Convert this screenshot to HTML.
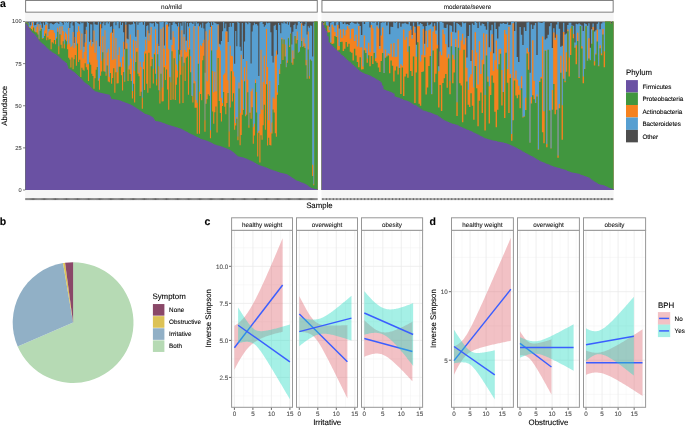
<!DOCTYPE html>
<html><head><meta charset="utf-8"><style>
html,body{margin:0;padding:0;background:#fff;}
body{width:685px;height:426px;overflow:hidden;}
svg{display:block;will-change:transform;}
text{font-family:"Liberation Sans", sans-serif;-webkit-font-smoothing:antialiased;text-rendering:geometricPrecision;stroke:currentColor;stroke-width:0.1px;}
.t{opacity:0.995;will-change:opacity;}
</style></head><body>
<svg width="685" height="426" viewBox="0 0 685 426">
<rect x="25.2" y="13" width="292.5" height="185" fill="#f6f6f6"/>
<rect x="25.65" y="0.4" width="291.6" height="11.75" fill="#fff" stroke="#6e6e6e" stroke-width="0.9"/>
<rect x="321.5" y="13" width="292.1" height="185" fill="#f6f6f6"/>
<rect x="321.95" y="0.4" width="291.2" height="11.75" fill="#fff" stroke="#6e6e6e" stroke-width="0.9"/>
<rect x="25.31" y="21.5" width="292.28" height="168.5" fill="#4d4d4d"/>
<path d="M25.31 190L25.31 22.14 26.41 22.14 26.41 22.58 27.51 22.58 27.51 23.46 28.61 23.46 28.61 22.07 29.71 22.07 29.71 25.33 30.8 25.33 30.8 22.2 31.9 22.2 31.9 21.94 33 21.94 33 21.86 34.1 21.86 34.1 25.34 35.2 25.34 35.2 24.88 36.3 24.88 36.3 22.59 37.4 22.59 37.4 21.89 38.5 21.89 38.5 24.16 39.59 24.16 39.59 21.53 40.69 21.53 40.69 23.43 41.79 23.43 41.79 27.86 42.89 27.86 42.89 22.4 43.99 22.4 43.99 24.66 45.09 24.66 45.09 22.02 46.19 22.02 46.19 21.84 47.29 21.84 47.29 22.71 48.38 22.71 48.38 28.9 49.48 28.9 49.48 23.38 50.58 23.38 50.58 22.97 51.68 22.97 51.68 24.06 52.78 24.06 52.78 24.4 53.88 24.4 53.88 23.83 54.98 23.83 54.98 23.03 56.08 23.03 56.08 22.61 57.18 22.61 57.18 22.74 58.27 22.74 58.27 24.04 59.37 24.04 59.37 21.53 60.47 21.53 60.47 21.94 61.57 21.94 61.57 23.02 62.67 23.02 62.67 24.87 63.77 24.87 63.77 21.71 64.87 21.71 64.87 22.6 65.97 22.6 65.97 21.75 67.06 21.75 67.06 22.66 68.16 22.66 68.16 21.79 69.26 21.79 69.26 28.08 70.36 28.08 70.36 23.17 71.46 23.17 71.46 21.54 72.56 21.54 72.56 25.43 73.66 25.43 73.66 42.96 74.76 42.96 74.76 22.06 75.85 22.06 75.85 21.59 76.95 21.59 76.95 22.77 78.05 22.77 78.05 23.41 79.15 23.41 79.15 24.18 80.25 24.18 80.25 22.06 81.35 22.06 81.35 23.27 82.45 23.27 82.45 22.49 83.55 22.49 83.55 46.74 84.64 46.74 84.64 33.91 85.74 33.91 85.74 26.64 86.84 26.64 86.84 21.9 87.94 21.9 87.94 22.96 89.04 22.96 89.04 41.86 90.14 41.86 90.14 24.23 91.24 24.23 91.24 24.58 92.34 24.58 92.34 41.95 93.44 41.95 93.44 21.89 94.53 21.89 94.53 24.25 95.63 24.25 95.63 24.66 96.73 24.66 96.73 24.63 97.83 24.63 97.83 22.11 98.93 22.11 98.93 46.32 100.03 46.32 100.03 22.25 101.13 22.25 101.13 28.32 102.23 28.32 102.23 23.41 103.32 23.41 103.32 21.95 104.42 21.95 104.42 25.13 105.52 25.13 105.52 22.61 106.62 22.61 106.62 21.54 107.72 21.54 107.72 23.39 108.82 23.39 108.82 21.94 109.92 21.94 109.92 26.79 111.02 26.79 111.02 26.3 112.11 26.3 112.11 32.81 113.21 32.81 113.21 22.48 114.31 22.48 114.31 21.81 115.41 21.81 115.41 25.14 116.51 25.14 116.51 21.61 117.61 21.61 117.61 21.61 118.71 21.61 118.71 28.29 119.81 28.29 119.81 21.76 120.91 21.76 120.91 24.88 122 24.88 122 22.78 123.1 22.78 123.1 32.27 124.2 32.27 124.2 49.23 125.3 49.23 125.3 21.9 126.4 21.9 126.4 38.38 127.5 38.38 127.5 39.23 128.6 39.23 128.6 24.35 129.7 24.35 129.7 24.66 130.79 24.66 130.79 24.59 131.89 24.59 131.89 24.13 132.99 24.13 132.99 21.66 134.09 21.66 134.09 23.57 135.19 23.57 135.19 36.83 136.29 36.83 136.29 21.84 137.39 21.84 137.39 24.63 138.49 24.63 138.49 22.4 139.58 22.4 139.58 22.6 140.68 22.6 140.68 22 141.78 22 141.78 22.17 142.88 22.17 142.88 24.73 143.98 24.73 143.98 21.63 145.08 21.63 145.08 36.8 146.18 36.8 146.18 26.02 147.28 26.02 147.28 25.24 148.38 25.24 148.38 33.28 149.47 33.28 149.47 22.67 150.57 22.67 150.57 23.34 151.67 23.34 151.67 23.52 152.77 23.52 152.77 22.96 153.87 22.96 153.87 26.39 154.97 26.39 154.97 22.1 156.07 22.1 156.07 23.35 157.17 23.35 157.17 23.77 158.26 23.77 158.26 45.89 159.36 45.89 159.36 21.92 160.46 21.92 160.46 22.18 161.56 22.18 161.56 21.82 162.66 21.82 162.66 21.84 163.76 21.84 163.76 45.51 164.86 45.51 164.86 22.3 165.96 22.3 165.96 21.81 167.05 21.81 167.05 22.6 168.15 22.6 168.15 26.38 169.25 26.38 169.25 22.92 170.35 22.92 170.35 39.76 171.45 39.76 171.45 25.06 172.55 25.06 172.55 22.61 173.65 22.61 173.65 22.08 174.75 22.08 174.75 23.4 175.85 23.4 175.85 24.3 176.94 24.3 176.94 26.31 178.04 26.31 178.04 22.85 179.14 22.85 179.14 54.53 180.24 54.53 180.24 23.2 181.34 23.2 181.34 25.67 182.44 25.67 182.44 22.21 183.54 22.21 183.54 34.29 184.64 34.29 184.64 21.54 185.73 21.54 185.73 40.84 186.83 40.84 186.83 22.95 187.93 22.95 187.93 26.59 189.03 26.59 189.03 23.05 190.13 23.05 190.13 22.62 191.23 22.62 191.23 22.77 192.33 22.77 192.33 24.03 193.43 24.03 193.43 22.14 194.52 22.14 194.52 26.09 195.62 26.09 195.62 21.57 196.72 21.57 196.72 23.5 197.82 23.5 197.82 23.23 198.92 23.23 198.92 26.32 200.02 26.32 200.02 24.43 201.12 24.43 201.12 27.73 202.22 27.73 202.22 22.82 203.32 22.82 203.32 28.57 204.41 28.57 204.41 72.72 205.51 72.72 205.51 23.63 206.61 23.63 206.61 23.02 207.71 23.02 207.71 21.65 208.81 21.65 208.81 23.12 209.91 23.12 209.91 26.91 211.01 26.91 211.01 22.22 212.11 22.22 212.11 25.11 213.2 25.11 213.2 22.06 214.3 22.06 214.3 22.76 215.4 22.76 215.4 23.31 216.5 23.31 216.5 24.22 217.6 24.22 217.6 24 218.7 24 218.7 43.83 219.8 43.83 219.8 44.45 220.9 44.45 220.9 40.89 221.99 40.89 221.99 31.33 223.09 31.33 223.09 21.94 224.19 21.94 224.19 28.25 225.29 28.25 225.29 23.39 226.39 23.39 226.39 31.28 227.49 31.28 227.49 42.09 228.59 42.09 228.59 27.03 229.69 27.03 229.69 22.93 230.79 22.93 230.79 26.86 231.88 26.86 231.88 22.9 232.98 22.9 232.98 23.12 234.08 23.12 234.08 63.71 235.18 63.71 235.18 30.88 236.28 30.88 236.28 46.21 237.38 46.21 237.38 21.96 238.48 21.96 238.48 22.9 239.58 22.9 239.58 46.78 240.67 46.78 240.67 50.7 241.77 50.7 241.77 23.04 242.87 23.04 242.87 58.99 243.97 58.99 243.97 41.45 245.07 41.45 245.07 22.6 246.17 22.6 246.17 22.65 247.27 22.65 247.27 24.34 248.37 24.34 248.37 22.35 249.46 22.35 249.46 22.97 250.56 22.97 250.56 63.53 251.66 63.53 251.66 31.55 252.76 31.55 252.76 25.21 253.86 25.21 253.86 22.7 254.96 22.7 254.96 24.18 256.06 24.18 256.06 24.12 257.16 24.12 257.16 25.55 258.26 25.55 258.26 76.11 259.35 76.11 259.35 22.6 260.45 22.6 260.45 21.67 261.55 21.67 261.55 21.89 262.65 21.89 262.65 23.99 263.75 23.99 263.75 26.69 264.85 26.69 264.85 25.23 265.95 25.23 265.95 22.55 267.05 22.55 267.05 23.24 268.14 23.24 268.14 22.87 269.24 22.87 269.24 22.69 270.34 22.69 270.34 32.24 271.44 32.24 271.44 55.65 272.54 55.65 272.54 62.54 273.64 62.54 273.64 25.71 274.74 25.71 274.74 24.79 275.84 24.79 275.84 30.06 276.93 30.06 276.93 54.43 278.03 54.43 278.03 22.93 279.13 22.93 279.13 25.01 280.23 25.01 280.23 33.23 281.33 33.23 281.33 22.63 282.43 22.63 282.43 23.4 283.53 23.4 283.53 21.6 284.63 21.6 284.63 23.32 285.72 23.32 285.72 23.85 286.82 23.85 286.82 21.85 287.92 21.85 287.92 24.86 289.02 24.86 289.02 22.22 290.12 22.22 290.12 27.3 291.22 27.3 291.22 44.61 292.32 44.61 292.32 31.86 293.42 31.86 293.42 25.12 294.52 25.12 294.52 23.53 295.61 23.53 295.61 28.89 296.71 28.89 296.71 25.37 297.81 25.37 297.81 21.59 298.91 21.59 298.91 21.61 300.01 21.61 300.01 22.91 301.11 22.91 301.11 22.14 302.21 22.14 302.21 25.19 303.31 25.19 303.31 26.1 304.4 26.1 304.4 24.29 305.5 24.29 305.5 21.92 306.6 21.92 306.6 34.5 307.7 34.5 307.7 26.15 308.8 26.15 308.8 27.76 309.9 27.76 309.9 25.44 311 25.44 311 25.72 312.1 25.72 312.1 56.5 313.19 56.5 313.19 22.5 314.29 22.5 314.29 21.5 315.39 21.5 315.39 21.5 316.49 21.5 316.49 21.5 317.59 21.5 317.59 190Z" fill="#579fd1"/>
<path d="M25.31 190L25.31 22.59 26.41 22.59 26.41 22.58 27.51 22.58 27.51 23.46 28.61 23.46 28.61 27.03 29.71 27.03 29.71 28.12 30.8 28.12 30.8 26.01 31.9 26.01 31.9 22.2 33 22.2 33 26.56 34.1 26.56 34.1 28.21 35.2 28.21 35.2 31.68 36.3 31.68 36.3 26.65 37.4 26.65 37.4 23.91 38.5 23.91 38.5 38.49 39.59 38.49 39.59 24.96 40.69 24.96 40.69 28.28 41.79 28.28 41.79 37.94 42.89 37.94 42.89 38.17 43.99 38.17 43.99 30.47 45.09 30.47 45.09 25.57 46.19 25.57 46.19 24.55 47.29 24.55 47.29 36.1 48.38 36.1 48.38 31.49 49.48 31.49 49.48 30.01 50.58 30.01 50.58 29.67 51.68 29.67 51.68 29.91 52.78 29.91 52.78 30.35 53.88 30.35 53.88 32.65 54.98 32.65 54.98 40.22 56.08 40.22 56.08 37 57.18 37 57.18 27.79 58.27 27.79 58.27 46.37 59.37 46.37 59.37 26.44 60.47 26.44 60.47 34.93 61.57 34.93 61.57 26.26 62.67 26.26 62.67 30.94 63.77 30.94 63.77 43.98 64.87 43.98 64.87 32.2 65.97 32.2 65.97 33.96 67.06 33.96 67.06 44.4 68.16 44.4 68.16 28.02 69.26 28.02 69.26 43.7 70.36 43.7 70.36 47.12 71.46 47.12 71.46 45.83 72.56 45.83 72.56 32.04 73.66 32.04 73.66 48.01 74.76 48.01 74.76 36.92 75.85 36.92 75.85 45.51 76.95 45.51 76.95 31.95 78.05 31.95 78.05 26.22 79.15 26.22 79.15 31.14 80.25 31.14 80.25 49.64 81.35 49.64 81.35 33.43 82.45 33.43 82.45 58.43 83.55 58.43 83.55 52.01 84.64 52.01 84.64 42.44 85.74 42.44 85.74 30.27 86.84 30.27 86.84 64.32 87.94 64.32 87.94 64.01 89.04 64.01 89.04 44.57 90.14 44.57 90.14 39.75 91.24 39.75 91.24 46.24 92.34 46.24 92.34 43.79 93.44 43.79 93.44 30.47 94.53 30.47 94.53 52.74 95.63 52.74 95.63 40.67 96.73 40.67 96.73 59.76 97.83 59.76 97.83 80.44 98.93 80.44 98.93 78.22 100.03 78.22 100.03 24.33 101.13 24.33 101.13 60.82 102.23 60.82 102.23 36.2 103.32 36.2 103.32 58.48 104.42 58.48 104.42 30.13 105.52 30.13 105.52 73.86 106.62 73.86 106.62 52.41 107.72 52.41 107.72 48.74 108.82 48.74 108.82 76.78 109.92 76.78 109.92 33.26 111.02 33.26 111.02 32.37 112.11 32.37 112.11 59.88 113.21 59.88 113.21 29.02 114.31 29.02 114.31 59.1 115.41 59.1 115.41 37.96 116.51 37.96 116.51 72.25 117.61 72.25 117.61 54.92 118.71 54.92 118.71 47.17 119.81 47.17 119.81 62.13 120.91 62.13 120.91 66.96 122 66.96 122 56.74 123.1 56.74 123.1 41.87 124.2 41.87 124.2 80.59 125.3 80.59 125.3 24.66 126.4 24.66 126.4 43.18 127.5 43.18 127.5 69.57 128.6 69.57 128.6 65.57 129.7 65.57 129.7 34.55 130.79 34.55 130.79 58.7 131.89 58.7 131.89 91.1 132.99 91.1 132.99 39.85 134.09 39.85 134.09 70.84 135.19 70.84 135.19 41.02 136.29 41.02 136.29 47.92 137.39 47.92 137.39 30.01 138.49 30.01 138.49 72.71 139.58 72.71 139.58 61.67 140.68 61.67 140.68 67 141.78 67 141.78 97.84 142.88 97.84 142.88 61.67 143.98 61.67 143.98 51.38 145.08 51.38 145.08 39.43 146.18 39.43 146.18 50.4 147.28 50.4 147.28 30.53 148.38 30.53 148.38 40.71 149.47 40.71 149.47 35.03 150.57 35.03 150.57 27.06 151.67 27.06 151.67 57.13 152.77 57.13 152.77 68.76 153.87 68.76 153.87 52.71 154.97 52.71 154.97 29.17 156.07 29.17 156.07 79.36 157.17 79.36 157.17 43.76 158.26 43.76 158.26 66.13 159.36 66.13 159.36 91.33 160.46 91.33 160.46 28.96 161.56 28.96 161.56 87.56 162.66 87.56 162.66 27.35 163.76 27.35 163.76 48.72 164.86 48.72 164.86 65.62 165.96 65.62 165.96 24.81 167.05 24.81 167.05 24.53 168.15 24.53 168.15 49.13 169.25 49.13 169.25 76.54 170.35 76.54 170.35 82.26 171.45 82.26 171.45 45.02 172.55 45.02 172.55 31.28 173.65 31.28 173.65 37.32 174.75 37.32 174.75 49.78 175.85 49.78 175.85 64.62 176.94 64.62 176.94 70.54 178.04 70.54 178.04 26.86 179.14 26.86 179.14 60.8 180.24 60.8 180.24 49.89 181.34 49.89 181.34 30.22 182.44 30.22 182.44 66.17 183.54 66.17 183.54 36.87 184.64 36.87 184.64 49.95 185.73 49.95 185.73 51.91 186.83 51.91 186.83 40.2 187.93 40.2 187.93 47.57 189.03 47.57 189.03 28.23 190.13 28.23 190.13 56.35 191.23 56.35 191.23 95.48 192.33 95.48 192.33 96.46 193.43 96.46 193.43 26.16 194.52 26.16 194.52 81.15 195.62 81.15 195.62 99.9 196.72 99.9 196.72 102.7 197.82 102.7 197.82 26.17 198.92 26.17 198.92 91.66 200.02 91.66 200.02 45.27 201.12 45.27 201.12 46.27 202.22 46.27 202.22 43.11 203.32 43.11 203.32 39.68 204.41 39.68 204.41 120.32 205.51 120.32 205.51 31.24 206.61 31.24 206.61 81.3 207.71 81.3 207.71 40.37 208.81 40.37 208.81 29.79 209.91 29.79 209.91 130.18 211.01 130.18 211.01 26.1 212.11 26.1 212.11 70.96 213.2 70.96 213.2 92.29 214.3 92.29 214.3 71.79 215.4 71.79 215.4 91.13 216.5 91.13 216.5 49.65 217.6 49.65 217.6 25.3 218.7 25.3 218.7 46.72 219.8 46.72 219.8 50.43 220.9 50.43 220.9 97.98 221.99 97.98 221.99 103.03 223.09 103.03 223.09 74.8 224.19 74.8 224.19 73.27 225.29 73.27 225.29 31.54 226.39 31.54 226.39 31.58 227.49 31.58 227.49 80.24 228.59 80.24 228.59 131.55 229.69 131.55 229.69 45.75 230.79 45.75 230.79 55.86 231.88 55.86 231.88 56.14 232.98 56.14 232.98 71.47 234.08 71.47 234.08 76.5 235.18 76.5 235.18 122.96 236.28 122.96 236.28 117 237.38 117 237.38 136.58 238.48 136.58 238.48 82.41 239.58 82.41 239.58 113.04 240.67 113.04 240.67 54.8 241.77 54.8 241.77 79.72 242.87 79.72 242.87 109.43 243.97 109.43 243.97 67.36 245.07 67.36 245.07 114.56 246.17 114.56 246.17 60.89 247.27 60.89 247.27 79.64 248.37 79.64 248.37 125.21 249.46 125.21 249.46 112.39 250.56 112.39 250.56 91.3 251.66 91.3 251.66 88.68 252.76 88.68 252.76 127 253.86 127 253.86 123.86 254.96 123.86 254.96 79.59 256.06 79.59 256.06 91.93 257.16 91.93 257.16 133.04 258.26 133.04 258.26 131.02 259.35 131.02 259.35 114.06 260.45 114.06 260.45 49.74 261.55 49.74 261.55 109.69 262.65 109.69 262.65 82.06 263.75 82.06 263.75 55.72 264.85 55.72 264.85 84.25 265.95 84.25 265.95 29.07 267.05 29.07 267.05 66.95 268.14 66.95 268.14 120.25 269.24 120.25 269.24 81 270.34 81 270.34 132.56 271.44 132.56 271.44 122.49 272.54 122.49 272.54 97.31 273.64 97.31 273.64 98.65 274.74 98.65 274.74 55.96 275.84 55.96 275.84 50.48 276.93 50.48 276.93 92.38 278.03 92.38 278.03 85.02 279.13 85.02 279.13 69.54 280.23 69.54 280.23 64.01 281.33 64.01 281.33 37.68 282.43 37.68 282.43 43.97 283.53 43.97 283.53 39.45 284.63 39.45 284.63 44.61 285.72 44.61 285.72 67.25 286.82 67.25 286.82 60.62 287.92 60.62 287.92 37.87 289.02 37.87 289.02 45.54 290.12 45.54 290.12 33.53 291.22 33.53 291.22 62.44 292.32 62.44 292.32 50.62 293.42 50.62 293.42 58.24 294.52 58.24 294.52 36.06 295.61 36.06 295.61 38.75 296.71 38.75 296.71 31.41 297.81 31.41 297.81 52.75 298.91 52.75 298.91 51.82 300.01 51.82 300.01 46.56 301.11 46.56 301.11 23.26 302.21 23.26 302.21 46.93 303.31 46.93 303.31 37.72 304.4 37.72 304.4 43.47 305.5 43.47 305.5 59.92 306.6 59.92 306.6 78.64 307.7 78.64 307.7 31.59 308.8 31.59 308.8 76.09 309.9 76.09 309.9 59.41 311 59.41 311 60.86 312.1 60.86 312.1 164.8 313.19 164.8 313.19 184.3 314.29 184.3 314.29 21.5 315.39 21.5 315.39 21.5 316.49 21.5 316.49 21.5 317.59 21.5 317.59 190Z" fill="#f5821f"/>
<path d="M25.31 190L25.31 22.59 26.41 22.59 26.41 22.58 27.51 22.58 27.51 23.46 28.61 23.46 28.61 27.61 29.71 27.61 29.71 28.12 30.8 28.12 30.8 28.9 31.9 28.9 31.9 30.48 33 30.48 33 27.58 34.1 27.58 34.1 31.61 35.2 31.61 35.2 32.25 36.3 32.25 36.3 32.47 37.4 32.47 37.4 34.52 38.5 34.52 38.5 39.16 39.59 39.16 39.59 30.76 40.69 30.76 40.69 29.04 41.79 29.04 41.79 38.72 42.89 38.72 42.89 38.21 43.99 38.21 43.99 36.07 45.09 36.07 45.09 33.55 46.19 33.55 46.19 40.28 47.29 40.28 47.29 37.43 48.38 37.43 48.38 39.86 49.48 39.86 49.48 39.04 50.58 39.04 50.58 49.21 51.68 49.21 51.68 42.37 52.78 42.37 52.78 43.44 53.88 43.44 53.88 40.02 54.98 40.02 54.98 44.37 56.08 44.37 56.08 38.47 57.18 38.47 57.18 31.76 58.27 31.76 58.27 54.17 59.37 54.17 59.37 34.26 60.47 34.26 60.47 44.67 61.57 44.67 61.57 48.22 62.67 48.22 62.67 41.17 63.77 41.17 63.77 48.53 64.87 48.53 64.87 39.7 65.97 39.7 65.97 41.22 67.06 41.22 67.06 49.3 68.16 49.3 68.16 57.87 69.26 57.87 69.26 59.47 70.36 59.47 70.36 67.38 71.46 67.38 71.46 57.47 72.56 57.47 72.56 69.35 73.66 69.35 73.66 59.26 74.76 59.26 74.76 55.07 75.85 55.07 75.85 65.75 76.95 65.75 76.95 43.59 78.05 43.59 78.05 61.91 79.15 61.91 79.15 59.8 80.25 59.8 80.25 77.08 81.35 77.08 81.35 67.79 82.45 67.79 82.45 69.73 83.55 69.73 83.55 70.68 84.64 70.68 84.64 63.15 85.74 63.15 85.74 67.37 86.84 67.37 86.84 69.77 87.94 69.77 87.94 81.11 89.04 81.11 89.04 62.43 90.14 62.43 90.14 64.79 91.24 64.79 91.24 73.82 92.34 73.82 92.34 75.99 93.44 75.99 93.44 88.81 94.53 88.81 94.53 78.34 95.63 78.34 95.63 69.68 96.73 69.68 96.73 67.12 97.83 67.12 97.83 80.72 98.93 80.72 98.93 89.83 100.03 89.83 100.03 75.71 101.13 75.71 101.13 71.43 102.23 71.43 102.23 52.17 103.32 52.17 103.32 71.2 104.42 71.2 104.42 71.77 105.52 71.77 105.52 75.73 106.62 75.73 106.62 65.58 107.72 65.58 107.72 81.43 108.82 81.43 108.82 82.37 109.92 82.37 109.92 73.03 111.02 73.03 111.02 83.75 112.11 83.75 112.11 77.98 113.21 77.98 113.21 68.27 114.31 68.27 114.31 92.74 115.41 92.74 115.41 72.33 116.51 72.33 116.51 83.47 117.61 83.47 117.61 83.21 118.71 83.21 118.71 66.74 119.81 66.74 119.81 66.8 120.91 66.8 120.91 75.3 122 75.3 122 90.56 123.1 90.56 123.1 71.98 124.2 71.98 124.2 81.69 125.3 81.69 125.3 48.65 126.4 48.65 126.4 48.79 127.5 48.79 127.5 80.89 128.6 80.89 128.6 69.54 129.7 69.54 129.7 73.91 130.79 73.91 130.79 81.09 131.89 81.09 131.89 98.59 132.99 98.59 132.99 83.76 134.09 83.76 134.09 102.5 135.19 102.5 135.19 62.01 136.29 62.01 136.29 51.8 137.39 51.8 137.39 73.81 138.49 73.81 138.49 76.15 139.58 76.15 139.58 96.05 140.68 96.05 140.68 91.78 141.78 91.78 141.78 108.84 142.88 108.84 142.88 69.27 143.98 69.27 143.98 89.93 145.08 89.93 145.08 53.44 146.18 53.44 146.18 83.7 147.28 83.7 147.28 92.68 148.38 92.68 148.38 52.79 149.47 52.79 149.47 88.21 150.57 88.21 150.57 66.13 151.67 66.13 151.67 59.04 152.77 59.04 152.77 83.46 153.87 83.46 153.87 54.33 154.97 54.33 154.97 73.79 156.07 73.79 156.07 85.55 157.17 85.55 157.17 54.37 158.26 54.37 158.26 90.33 159.36 90.33 159.36 103.51 160.46 103.51 160.46 73.72 161.56 73.72 161.56 101.41 162.66 101.41 162.66 101.34 163.76 101.34 163.76 67.21 164.86 67.21 164.86 80.09 165.96 80.09 165.96 69.55 167.05 69.55 167.05 89.53 168.15 89.53 168.15 109.83 169.25 109.83 169.25 77.2 170.35 77.2 170.35 99.94 171.45 99.94 171.45 51.35 172.55 51.35 172.55 99.47 173.65 99.47 173.65 58.15 174.75 58.15 174.75 99.94 175.85 99.94 175.85 84.63 176.94 84.63 176.94 77.5 178.04 77.5 178.04 49.67 179.14 49.67 179.14 103.39 180.24 103.39 180.24 74.66 181.34 74.66 181.34 56.67 182.44 56.67 182.44 102.94 183.54 102.94 183.54 62.76 184.64 62.76 184.64 80.98 185.73 80.98 185.73 57.67 186.83 57.67 186.83 56.39 187.93 56.39 187.93 94.7 189.03 94.7 189.03 49.61 190.13 49.61 190.13 72.27 191.23 72.27 191.23 96.02 192.33 96.02 192.33 102.45 193.43 102.45 193.43 83.33 194.52 83.33 194.52 107.63 195.62 107.63 195.62 107.63 196.72 107.63 196.72 133.71 197.82 133.71 197.82 63.77 198.92 63.77 198.92 133.77 200.02 133.77 200.02 94.08 201.12 94.08 201.12 100.22 202.22 100.22 202.22 60.19 203.32 60.19 203.32 55.86 204.41 55.86 204.41 131.69 205.51 131.69 205.51 103.86 206.61 103.86 206.61 99.18 207.71 99.18 207.71 94.33 208.81 94.33 208.81 95.71 209.91 95.71 209.91 138.29 211.01 138.29 211.01 50.56 212.11 50.56 212.11 111.57 213.2 111.57 213.2 123.72 214.3 123.72 214.3 112.35 215.4 112.35 215.4 106.52 216.5 106.52 216.5 132.53 217.6 132.53 217.6 57.98 218.7 57.98 218.7 100.91 219.8 100.91 219.8 112.93 220.9 112.93 220.9 121.58 221.99 121.58 221.99 106.05 223.09 106.05 223.09 92.06 224.19 92.06 224.19 106.82 225.29 106.82 225.29 114.15 226.39 114.15 226.39 102.99 227.49 102.99 227.49 92.98 228.59 92.98 228.59 146.69 229.69 146.69 229.69 107.52 230.79 107.52 230.79 71.32 231.88 71.32 231.88 101.42 232.98 101.42 232.98 93.31 234.08 93.31 234.08 129.84 235.18 129.84 235.18 125.59 236.28 125.59 236.28 118.74 237.38 118.74 237.38 140.33 238.48 140.33 238.48 88.62 239.58 88.62 239.58 145.13 240.67 145.13 240.67 135.1 241.77 135.1 241.77 114.78 242.87 114.78 242.87 110.06 243.97 110.06 243.97 81.13 245.07 81.13 245.07 116.13 246.17 116.13 246.17 114.86 247.27 114.86 247.27 92.22 248.37 92.22 248.37 127.67 249.46 127.67 249.46 112.66 250.56 112.66 250.56 118.82 251.66 118.82 251.66 107.29 252.76 107.29 252.76 143.68 253.86 143.68 253.86 135.47 254.96 135.47 254.96 83.02 256.06 83.02 256.06 112.52 257.16 112.52 257.16 156.47 258.26 156.47 258.26 132.82 259.35 132.82 259.35 162.56 260.45 162.56 260.45 135.28 261.55 135.28 261.55 139.75 262.65 139.75 262.65 125.24 263.75 125.24 263.75 104.71 264.85 104.71 264.85 129.64 265.95 129.64 265.95 84.3 267.05 84.3 267.05 145.47 268.14 145.47 268.14 137.63 269.24 137.63 269.24 144.94 270.34 144.94 270.34 145.38 271.44 145.38 271.44 133.41 272.54 133.41 272.54 109.49 273.64 109.49 273.64 112.54 274.74 112.54 274.74 133.29 275.84 133.29 275.84 136.67 276.93 136.67 276.93 94.7 278.03 94.7 278.03 85.09 279.13 85.09 279.13 73.92 280.23 73.92 280.23 64.06 281.33 64.06 281.33 39.13 282.43 39.13 282.43 59.95 283.53 59.95 283.53 39.48 284.63 39.48 284.63 56.48 285.72 56.48 285.72 67.26 286.82 67.26 286.82 62.77 287.92 62.77 287.92 38.2 289.02 38.2 289.02 47.05 290.12 47.05 290.12 33.65 291.22 33.65 291.22 62.63 292.32 62.63 292.32 64.69 293.42 64.69 293.42 58.82 294.52 58.82 294.52 36.06 295.61 36.06 295.61 43.57 296.71 43.57 296.71 39.98 297.81 39.98 297.81 52.75 298.91 52.75 298.91 51.84 300.01 51.84 300.01 47.21 301.11 47.21 301.11 40.91 302.21 40.91 302.21 46.93 303.31 46.93 303.31 46.34 304.4 46.34 304.4 47.89 305.5 47.89 305.5 65.19 306.6 65.19 306.6 78.82 307.7 78.82 307.7 49.62 308.8 49.62 308.8 78.67 309.9 78.67 309.9 59.44 311 59.44 311 60.86 312.1 60.86 312.1 175.9 313.19 175.9 313.19 185.3 314.29 185.3 314.29 21.5 315.39 21.5 315.39 21.5 316.49 21.5 316.49 21.5 317.59 21.5 317.59 190Z" fill="#41963f"/>
<path d="M25.31 190L25.31 23.2 26.41 23.2 26.41 24.13 27.51 24.13 27.51 25.95 28.61 25.95 28.61 28.06 29.71 28.06 29.71 29.82 30.8 29.82 30.8 31.26 31.9 31.26 31.9 32.42 33 32.42 33 33.2 34.1 33.2 34.1 34.13 35.2 34.13 35.2 35.56 36.3 35.56 36.3 37.01 37.4 37.01 37.4 38.57 38.5 38.57 38.5 40.14 39.59 40.14 39.59 41.62 40.69 41.62 40.69 42.5 41.79 42.5 41.79 43.38 42.89 43.38 42.89 44.27 43.99 44.27 43.99 45.24 45.09 45.24 45.09 46.34 46.19 46.34 46.19 47.44 47.29 47.44 47.29 48.54 48.38 48.54 48.38 49.49 49.48 49.49 49.48 50.38 50.58 50.38 50.58 51.26 51.68 51.26 51.68 52.14 52.78 52.14 52.78 52.8 53.88 52.8 53.88 53.45 54.98 53.45 54.98 54.09 56.08 54.09 56.08 54.78 57.18 54.78 57.18 55.67 58.27 55.67 58.27 56.55 59.37 56.55 59.37 57.43 60.47 57.43 60.47 58.49 61.57 58.49 61.57 59.69 62.67 59.69 62.67 60.53 63.77 60.53 63.77 61.36 64.87 61.36 64.87 62.2 65.97 62.2 65.97 63.03 67.06 63.03 67.06 65.4 68.16 65.4 68.16 68.43 69.26 68.43 69.26 69.12 70.36 69.12 70.36 69.81 71.46 69.81 71.46 70.51 72.56 70.51 72.56 71.31 73.66 71.31 73.66 72.12 74.76 72.12 74.76 72.98 75.85 72.98 75.85 73.99 76.95 73.99 76.95 75 78.05 75 78.05 76.01 79.15 76.01 79.15 77.02 80.25 77.02 80.25 78.15 81.35 78.15 81.35 79.31 82.45 79.31 82.45 80.48 83.55 80.48 83.55 81.64 84.64 81.64 84.64 82.74 85.74 82.74 85.74 83.51 86.84 83.51 86.84 84.27 87.94 84.27 87.94 85.04 89.04 85.04 89.04 85.81 90.14 85.81 90.14 86.9 91.24 86.9 91.24 88.19 92.34 88.19 92.34 89.47 93.44 89.47 93.44 90.34 94.53 90.34 94.53 91.13 95.63 91.13 95.63 91.48 96.73 91.48 96.73 91.83 97.83 91.83 97.83 92.18 98.93 92.18 98.93 92.53 100.03 92.53 100.03 92.82 101.13 92.82 101.13 93.04 102.23 93.04 102.23 93.26 103.32 93.26 103.32 93.47 104.42 93.47 104.42 93.69 105.52 93.69 105.52 93.94 106.62 93.94 106.62 94.18 107.72 94.18 107.72 94.42 108.82 94.42 108.82 94.66 109.92 94.66 109.92 96.62 111.02 96.62 111.02 98.8 112.11 98.8 112.11 98.99 113.21 98.99 113.21 99.18 114.31 99.18 114.31 99.38 115.41 99.38 115.41 99.59 116.51 99.59 116.51 99.81 117.61 99.81 117.61 100.03 118.71 100.03 118.71 100.25 119.81 100.25 119.81 100.54 120.91 100.54 120.91 100.98 122 100.98 122 101.42 123.1 101.42 123.1 101.86 124.2 101.86 124.2 102.3 125.3 102.3 125.3 102.71 126.4 102.71 126.4 103.1 127.5 103.1 127.5 103.5 128.6 103.5 128.6 103.89 129.7 103.89 129.7 104.34 130.79 104.34 130.79 104.95 131.89 104.95 131.89 105.57 132.99 105.57 132.99 106.18 134.09 106.18 134.09 106.8 135.19 106.8 135.19 107.52 136.29 107.52 136.29 108.29 137.39 108.29 137.39 109.06 138.49 109.06 138.49 109.82 139.58 109.82 139.58 110.59 140.68 110.59 140.68 111.29 141.78 111.29 141.78 111.99 142.88 111.99 142.88 112.7 143.98 112.7 143.98 113.4 145.08 113.4 145.08 113.91 146.18 113.91 146.18 114.29 147.28 114.29 147.28 114.66 148.38 114.66 148.38 115.03 149.47 115.03 149.47 115.42 150.57 115.42 150.57 116.14 151.67 116.14 151.67 116.86 152.77 116.86 152.77 117.7 153.87 117.7 153.87 119.53 154.97 119.53 154.97 121.03 156.07 121.03 156.07 121.19 157.17 121.19 157.17 121.35 158.26 121.35 158.26 121.5 159.36 121.5 159.36 121.66 160.46 121.66 160.46 122.02 161.56 122.02 161.56 122.45 162.66 122.45 162.66 122.89 163.76 122.89 163.76 123.32 164.86 123.32 164.86 123.75 165.96 123.75 165.96 124.19 167.05 124.19 167.05 124.59 168.15 124.59 168.15 124.92 169.25 124.92 169.25 125.25 170.35 125.25 170.35 125.58 171.45 125.58 171.45 125.91 172.55 125.91 172.55 126.24 173.65 126.24 173.65 126.57 174.75 126.57 174.75 126.9 175.85 126.9 175.85 127.23 176.94 127.23 176.94 127.56 178.04 127.56 178.04 127.89 179.14 127.89 179.14 128.22 180.24 128.22 180.24 128.55 181.34 128.55 181.34 129.03 182.44 129.03 182.44 129.65 183.54 129.65 183.54 130.26 184.64 130.26 184.64 130.88 185.73 130.88 185.73 131.5 186.83 131.5 186.83 132.09 187.93 132.09 187.93 132.63 189.03 132.63 189.03 133.17 190.13 133.17 190.13 133.71 191.23 133.71 191.23 134.26 192.33 134.26 192.33 134.8 193.43 134.8 193.43 135.34 194.52 135.34 194.52 135.89 195.62 135.89 195.62 136.44 196.72 136.44 196.72 136.99 197.82 136.99 197.82 137.54 198.92 137.54 198.92 138.08 200.02 138.08 200.02 138.63 201.12 138.63 201.12 139.08 202.22 139.08 202.22 139.42 203.32 139.42 203.32 139.76 204.41 139.76 204.41 140.1 205.51 140.1 205.51 140.44 206.61 140.44 206.61 140.78 207.71 140.78 207.71 141.13 208.81 141.13 208.81 141.68 209.91 141.68 209.91 142.23 211.01 142.23 211.01 142.78 212.11 142.78 212.11 143.33 213.2 143.33 213.2 143.88 214.3 143.88 214.3 144.43 215.4 144.43 215.4 144.82 216.5 144.82 216.5 145.15 217.6 145.15 217.6 145.47 218.7 145.47 218.7 145.8 219.8 145.8 219.8 146.12 220.9 146.12 220.9 146.45 221.99 146.45 221.99 146.8 223.09 146.8 223.09 147.24 224.19 147.24 224.19 147.68 225.29 147.68 225.29 148.12 226.39 148.12 226.39 148.56 227.49 148.56 227.49 149 228.59 149 228.59 149.43 229.69 149.43 229.69 150.12 230.79 150.12 230.79 150.86 231.88 150.86 231.88 151.59 232.98 151.59 232.98 152.33 234.08 152.33 234.08 153.28 235.18 153.28 235.18 154.23 236.28 154.23 236.28 155.18 237.38 155.18 237.38 156.14 238.48 156.14 238.48 156.46 239.58 156.46 239.58 156.75 240.67 156.75 240.67 157.03 241.77 157.03 241.77 157.31 242.87 157.31 242.87 157.59 243.97 157.59 243.97 157.88 245.07 157.88 245.07 158.27 246.17 158.27 246.17 158.75 247.27 158.75 247.27 159.23 248.37 159.23 248.37 159.71 249.46 159.71 249.46 160.19 250.56 160.19 250.56 160.67 251.66 160.67 251.66 161.16 252.76 161.16 252.76 161.79 253.86 161.79 253.86 162.42 254.96 162.42 254.96 163.05 256.06 163.05 256.06 163.68 257.16 163.68 257.16 164.3 258.26 164.3 258.26 164.93 259.35 164.93 259.35 165.37 260.45 165.37 260.45 165.74 261.55 165.74 261.55 166.11 262.65 166.11 262.65 166.49 263.75 166.49 263.75 166.86 264.85 166.86 264.85 167.23 265.95 167.23 265.95 167.62 267.05 167.62 267.05 168.06 268.14 168.06 268.14 168.5 269.24 168.5 269.24 168.94 270.34 168.94 270.34 169.38 271.44 169.38 271.44 169.82 272.54 169.82 272.54 170.26 273.64 170.26 273.64 170.62 274.74 170.62 274.74 170.98 275.84 170.98 275.84 171.33 276.93 171.33 276.93 171.69 278.03 171.69 278.03 172.04 279.13 172.04 279.13 172.4 280.23 172.4 280.23 172.72 281.33 172.72 281.33 172.99 282.43 172.99 282.43 173.27 283.53 173.27 283.53 173.54 284.63 173.54 284.63 173.82 285.72 173.82 285.72 174.09 286.82 174.09 286.82 174.62 287.92 174.62 287.92 175.16 289.02 175.16 289.02 175.69 290.12 175.69 290.12 176.38 291.22 176.38 291.22 177.18 292.32 177.18 292.32 177.98 293.42 177.98 293.42 178.77 294.52 178.77 294.52 179.57 295.61 179.57 295.61 180.24 296.71 180.24 296.71 180.68 297.81 180.68 297.81 181.11 298.91 181.11 298.91 181.55 300.01 181.55 300.01 181.99 301.11 181.99 301.11 182.42 302.21 182.42 302.21 182.86 303.31 182.86 303.31 183.29 304.4 183.29 304.4 183.73 305.5 183.73 305.5 184.16 306.6 184.16 306.6 184.91 307.7 184.91 307.7 185.8 308.8 185.8 308.8 186.7 309.9 186.7 309.9 187.34 311 187.34 311 187.9 312.1 187.9 312.1 188.3 313.19 188.3 313.19 188.6 314.29 188.6 314.29 188.9 315.39 188.9 315.39 189.11 316.49 189.11 316.49 189.37 317.59 189.37 317.59 190Z" fill="#6a51a3"/>
<rect x="321.64" y="21.5" width="291.82" height="168.5" fill="#4d4d4d"/>
<path d="M321.64 190L321.64 21.53 323.04 21.53 323.04 23.39 324.45 23.39 324.45 21.67 325.85 21.67 325.85 21.58 327.25 21.58 327.25 21.84 328.66 21.84 328.66 26.75 330.06 26.75 330.06 22.8 331.46 22.8 331.46 21.68 332.86 21.68 332.86 21.71 334.27 21.71 334.27 25.55 335.67 25.55 335.67 22.19 337.07 22.19 337.07 21.73 338.48 21.73 338.48 28.45 339.88 28.45 339.88 21.53 341.28 21.53 341.28 22.16 342.68 22.16 342.68 24.01 344.09 24.01 344.09 22.39 345.49 22.39 345.49 24.25 346.89 24.25 346.89 23.92 348.3 23.92 348.3 25.03 349.7 25.03 349.7 23.07 351.1 23.07 351.1 21.91 352.51 21.91 352.51 22.64 353.91 22.64 353.91 23.44 355.31 23.44 355.31 23.64 356.71 23.64 356.71 22.48 358.12 22.48 358.12 23.8 359.52 23.8 359.52 26.07 360.92 26.07 360.92 34.95 362.33 34.95 362.33 21.97 363.73 21.97 363.73 23.93 365.13 23.93 365.13 21.97 366.54 21.97 366.54 22.01 367.94 22.01 367.94 21.82 369.34 21.82 369.34 27.57 370.74 27.57 370.74 21.95 372.15 21.95 372.15 22.42 373.55 22.42 373.55 22.52 374.95 22.52 374.95 21.93 376.36 21.93 376.36 25.15 377.76 25.15 377.76 21.55 379.16 21.55 379.16 45.97 380.57 45.97 380.57 22.68 381.97 22.68 381.97 22.14 383.37 22.14 383.37 22.62 384.77 22.62 384.77 22.07 386.18 22.07 386.18 25.5 387.58 25.5 387.58 22.29 388.98 22.29 388.98 34.22 390.39 34.22 390.39 26.77 391.79 26.77 391.79 27.01 393.19 27.01 393.19 22.33 394.6 22.33 394.6 22.87 396 22.87 396 22.1 397.4 22.1 397.4 28.36 398.8 28.36 398.8 22.68 400.21 22.68 400.21 26.73 401.61 26.73 401.61 23.58 403.01 23.58 403.01 23.52 404.42 23.52 404.42 22.73 405.82 22.73 405.82 23.7 407.22 23.7 407.22 24.19 408.62 24.19 408.62 22.01 410.03 22.01 410.03 25.83 411.43 25.83 411.43 34.99 412.83 34.99 412.83 22.46 414.24 22.46 414.24 26.76 415.64 26.76 415.64 44.84 417.04 44.84 417.04 22.12 418.45 22.12 418.45 24.51 419.85 24.51 419.85 23 421.25 23 421.25 23.9 422.65 23.9 422.65 26.29 424.06 26.29 424.06 43.67 425.46 43.67 425.46 26.06 426.86 26.06 426.86 22.55 428.27 22.55 428.27 25.17 429.67 25.17 429.67 24.28 431.07 24.28 431.07 22.57 432.48 22.57 432.48 26.62 433.88 26.62 433.88 23.27 435.28 23.27 435.28 30.53 436.68 30.53 436.68 22.1 438.09 22.1 438.09 66.28 439.49 66.28 439.49 21.56 440.89 21.56 440.89 21.74 442.3 21.74 442.3 22.7 443.7 22.7 443.7 27.83 445.1 27.83 445.1 27.99 446.51 27.99 446.51 24.45 447.91 24.45 447.91 47.29 449.31 47.29 449.31 25.3 450.71 25.3 450.71 25.83 452.12 25.83 452.12 31.78 453.52 31.78 453.52 21.89 454.92 21.89 454.92 32.43 456.33 32.43 456.33 22.91 457.73 22.91 457.73 24.06 459.13 24.06 459.13 25.26 460.54 25.26 460.54 26.66 461.94 26.66 461.94 22.25 463.34 22.25 463.34 23.28 464.74 23.28 464.74 22.69 466.15 22.69 466.15 57.42 467.55 57.42 467.55 35.96 468.95 35.96 468.95 25.11 470.36 25.11 470.36 61.1 471.76 61.1 471.76 23.47 473.16 23.47 473.16 24.99 474.56 24.99 474.56 21.57 475.97 21.57 475.97 22.77 477.37 22.77 477.37 27.94 478.77 27.94 478.77 22.13 480.18 22.13 480.18 25.48 481.58 25.48 481.58 23.6 482.98 23.6 482.98 24.1 484.39 24.1 484.39 26.17 485.79 26.17 485.79 29.7 487.19 29.7 487.19 21.83 488.59 21.83 488.59 47.14 490 47.14 490 30.31 491.4 30.31 491.4 24.67 492.8 24.67 492.8 53.37 494.21 53.37 494.21 22.55 495.61 22.55 495.61 29.07 497.01 29.07 497.01 38.44 498.42 38.44 498.42 26.42 499.82 26.42 499.82 23.38 501.22 23.38 501.22 23.76 502.62 23.76 502.62 23.05 504.03 23.05 504.03 23.69 505.43 23.69 505.43 23.98 506.83 23.98 506.83 22.56 508.24 22.56 508.24 24.89 509.64 24.89 509.64 24.67 511.04 24.67 511.04 21.63 512.45 21.63 512.45 21.69 513.85 21.69 513.85 31.03 515.25 31.03 515.25 21.95 516.65 21.95 516.65 57.01 518.06 57.01 518.06 61.96 519.46 61.96 519.46 27.09 520.86 27.09 520.86 34.85 522.27 34.85 522.27 45.04 523.67 45.04 523.67 27.35 525.07 27.35 525.07 31.09 526.48 31.09 526.48 22.45 527.88 22.45 527.88 22.22 529.28 22.22 529.28 72.82 530.68 72.82 530.68 24.55 532.09 24.55 532.09 28.99 533.49 28.99 533.49 25.26 534.89 25.26 534.89 23.1 536.3 23.1 536.3 55.05 537.7 55.05 537.7 22.19 539.1 22.19 539.1 22.43 540.5 22.43 540.5 23.06 541.91 23.06 541.91 22.67 543.31 22.67 543.31 21.72 544.71 21.72 544.71 39.49 546.12 39.49 546.12 38.29 547.52 38.29 547.52 34.87 548.92 34.87 548.92 26.26 550.33 26.26 550.33 23.09 551.73 23.09 551.73 47.99 553.13 47.99 553.13 28.15 554.53 28.15 554.53 37.71 555.94 37.71 555.94 24.43 557.34 24.43 557.34 22.09 558.74 22.09 558.74 28.81 560.15 28.81 560.15 46.67 561.55 46.67 561.55 45.68 562.95 45.68 562.95 22.81 564.36 22.81 564.36 34.51 565.76 34.51 565.76 33.58 567.16 33.58 567.16 25.05 568.56 25.05 568.56 22.75 569.97 22.75 569.97 22.73 571.37 22.73 571.37 25.41 572.77 25.41 572.77 25.81 574.18 25.81 574.18 42.51 575.58 42.51 575.58 23.65 576.98 23.65 576.98 24.14 578.39 24.14 578.39 23.26 579.79 23.26 579.79 24.6 581.19 24.6 581.19 25.56 582.59 25.56 582.59 31.04 584 31.04 584 23.22 585.4 23.22 585.4 23.96 586.8 23.96 586.8 25.66 588.21 25.66 588.21 23.13 589.61 23.13 589.61 47.81 591.01 47.81 591.01 29.3 592.42 29.3 592.42 23.47 593.82 23.47 593.82 31.45 595.22 31.45 595.22 30.18 596.62 30.18 596.62 23.72 598.03 23.72 598.03 22.36 599.43 22.36 599.43 29.36 600.83 29.36 600.83 23.38 602.24 23.38 602.24 22.28 603.64 22.28 603.64 22.37 605.04 22.37 605.04 21.5 606.44 21.5 606.44 21.5 607.85 21.5 607.85 21.5 609.25 21.5 609.25 21.5 610.65 21.5 610.65 23.65 612.06 23.65 612.06 21.5 613.46 21.5 613.46 190Z" fill="#579fd1"/>
<path d="M321.64 190L321.64 21.53 323.04 21.53 323.04 23.43 324.45 23.43 324.45 21.7 325.85 21.7 325.85 25.44 327.25 25.44 327.25 25.64 328.66 25.64 328.66 30.37 330.06 30.37 330.06 42.61 331.46 42.61 331.46 24.71 332.86 24.71 332.86 27.23 334.27 27.23 334.27 32 335.67 32 335.67 35.91 337.07 35.91 337.07 24.98 338.48 24.98 338.48 46.01 339.88 46.01 339.88 29.62 341.28 29.62 341.28 38.02 342.68 38.02 342.68 28.88 344.09 28.88 344.09 35.39 345.49 35.39 345.49 29.88 346.89 29.88 346.89 26.36 348.3 26.36 348.3 28.46 349.7 28.46 349.7 38.84 351.1 38.84 351.1 29.01 352.51 29.01 352.51 28.53 353.91 28.53 353.91 40.9 355.31 40.9 355.31 34.69 356.71 34.69 356.71 46.51 358.12 46.51 358.12 25.97 359.52 25.97 359.52 47.45 360.92 47.45 360.92 47.34 362.33 47.34 362.33 66.49 363.73 66.49 363.73 35.48 365.13 35.48 365.13 48.37 366.54 48.37 366.54 58.49 367.94 58.49 367.94 42.64 369.34 42.64 369.34 52.37 370.74 52.37 370.74 25 372.15 25 372.15 28.29 373.55 28.29 373.55 52.49 374.95 52.49 374.95 58.3 376.36 58.3 376.36 26.5 377.76 26.5 377.76 28.52 379.16 28.52 379.16 48.93 380.57 48.93 380.57 35.42 381.97 35.42 381.97 27.44 383.37 27.44 383.37 72.92 384.77 72.92 384.77 49.49 386.18 49.49 386.18 56.51 387.58 56.51 387.58 53.27 388.98 53.27 388.98 53.97 390.39 53.97 390.39 43.83 391.79 43.83 391.79 56.69 393.19 56.69 393.19 42.93 394.6 42.93 394.6 57.12 396 57.12 396 56.86 397.4 56.86 397.4 39.14 398.8 39.14 398.8 67.68 400.21 67.68 400.21 64.36 401.61 64.36 401.61 65.66 403.01 65.66 403.01 29.5 404.42 29.5 404.42 39.65 405.82 39.65 405.82 37.02 407.22 37.02 407.22 51.82 408.62 51.82 408.62 30.93 410.03 30.93 410.03 29.79 411.43 29.79 411.43 38.87 412.83 38.87 412.83 26.22 414.24 26.22 414.24 32.71 415.64 32.71 415.64 56.77 417.04 56.77 417.04 26.32 418.45 26.32 418.45 26.17 419.85 26.17 419.85 61.41 421.25 61.41 421.25 54.67 422.65 54.67 422.65 29.06 424.06 29.06 424.06 55.58 425.46 55.58 425.46 30.84 426.86 30.84 426.86 47.36 428.27 47.36 428.27 30.19 429.67 30.19 429.67 28.9 431.07 28.9 431.07 94.05 432.48 94.05 432.48 31.54 433.88 31.54 433.88 25.86 435.28 25.86 435.28 34 436.68 34 436.68 44.83 438.09 44.83 438.09 71.2 439.49 71.2 439.49 51.39 440.89 51.39 440.89 55.34 442.3 55.34 442.3 29.6 443.7 29.6 443.7 34.26 445.1 34.26 445.1 44.03 446.51 44.03 446.51 57.58 447.91 57.58 447.91 54.24 449.31 54.24 449.31 81.28 450.71 81.28 450.71 32.25 452.12 32.25 452.12 54.63 453.52 54.63 453.52 59.61 454.92 59.61 454.92 39.08 456.33 39.08 456.33 102.29 457.73 102.29 457.73 30.45 459.13 30.45 459.13 50.35 460.54 50.35 460.54 40.44 461.94 40.44 461.94 33.87 463.34 33.87 463.34 44.42 464.74 44.42 464.74 37.79 466.15 37.79 466.15 67.76 467.55 67.76 467.55 89.63 468.95 89.63 468.95 77.34 470.36 77.34 470.36 74.16 471.76 74.16 471.76 49.94 473.16 49.94 473.16 87.44 474.56 87.44 474.56 32.16 475.97 32.16 475.97 52.51 477.37 52.51 477.37 84.55 478.77 84.55 478.77 41.36 480.18 41.36 480.18 73.96 481.58 73.96 481.58 59.76 482.98 59.76 482.98 33.36 484.39 33.36 484.39 94.88 485.79 94.88 485.79 34.19 487.19 34.19 487.19 76.45 488.59 76.45 488.59 86.33 490 86.33 490 51.76 491.4 51.76 491.4 34.16 492.8 34.16 492.8 70.71 494.21 70.71 494.21 60.32 495.61 60.32 495.61 40.43 497.01 40.43 497.01 69.3 498.42 69.3 498.42 49.18 499.82 49.18 499.82 48.86 501.22 48.86 501.22 69.95 502.62 69.95 502.62 91.93 504.03 91.93 504.03 29.93 505.43 29.93 505.43 34.2 506.83 34.2 506.83 69.12 508.24 69.12 508.24 26.66 509.64 26.66 509.64 73.92 511.04 73.92 511.04 133.94 512.45 133.94 512.45 23.27 513.85 23.27 513.85 78.58 515.25 78.58 515.25 70.55 516.65 70.55 516.65 79.81 518.06 79.81 518.06 85.73 519.46 85.73 519.46 89.91 520.86 89.91 520.86 76.19 522.27 76.19 522.27 116.94 523.67 116.94 523.67 116.23 525.07 116.23 525.07 97.77 526.48 97.77 526.48 47.89 527.88 47.89 527.88 51.95 529.28 51.95 529.28 142.7 530.68 142.7 530.68 97.1 532.09 97.1 532.09 40.14 533.49 40.14 533.49 80.7 534.89 80.7 534.89 102.84 536.3 102.84 536.3 94.44 537.7 94.44 537.7 149.47 539.1 149.47 539.1 81.02 540.5 81.02 540.5 76.9 541.91 76.9 541.91 36.52 543.31 36.52 543.31 111.32 544.71 111.32 544.71 50.13 546.12 50.13 546.12 143.99 547.52 143.99 547.52 49.74 548.92 49.74 548.92 109.96 550.33 109.96 550.33 148.55 551.73 148.55 551.73 90.12 553.13 90.12 553.13 32.48 554.53 32.48 554.53 40.11 555.94 40.11 555.94 34.54 557.34 34.54 557.34 155.48 558.74 155.48 558.74 103.99 560.15 103.99 560.15 55.72 561.55 55.72 561.55 105.17 562.95 105.17 562.95 32.05 564.36 32.05 564.36 81.07 565.76 81.07 565.76 52.23 567.16 52.23 567.16 29.56 568.56 29.56 568.56 57.56 569.97 57.56 569.97 28.47 571.37 28.47 571.37 26.03 572.77 26.03 572.77 34.05 574.18 34.05 574.18 47.77 575.58 47.77 575.58 45.28 576.98 45.28 576.98 32.86 578.39 32.86 578.39 76.98 579.79 76.98 579.79 26.09 581.19 26.09 581.19 46.37 582.59 46.37 582.59 76.49 584 76.49 584 68.71 585.4 68.71 585.4 26.15 586.8 26.15 586.8 60.66 588.21 60.66 588.21 38.22 589.61 38.22 589.61 59.88 591.01 59.88 591.01 43.75 592.42 43.75 592.42 26.88 593.82 26.88 593.82 61.17 595.22 61.17 595.22 53.56 596.62 53.56 596.62 29.58 598.03 29.58 598.03 65.57 599.43 65.57 599.43 45.32 600.83 45.32 600.83 53.56 602.24 53.56 602.24 29.01 603.64 29.01 603.64 51.3 605.04 51.3 605.04 21.5 606.44 21.5 606.44 21.5 607.85 21.5 607.85 21.5 609.25 21.5 609.25 21.5 610.65 21.5 610.65 23.69 612.06 23.69 612.06 21.5 613.46 21.5 613.46 190Z" fill="#f5821f"/>
<path d="M321.64 190L321.64 21.53 323.04 21.53 323.04 24.52 324.45 24.52 324.45 21.7 325.85 21.7 325.85 25.44 327.25 25.44 327.25 32.48 328.66 32.48 328.66 32.36 330.06 32.36 330.06 42.83 331.46 42.83 331.46 43.88 332.86 43.88 332.86 43.52 334.27 43.52 334.27 35.88 335.67 35.88 335.67 36.93 337.07 36.93 337.07 50.55 338.48 50.55 338.48 49.76 339.88 49.76 339.88 42.06 341.28 42.06 341.28 41.71 342.68 41.71 342.68 51.03 344.09 51.03 344.09 48.72 345.49 48.72 345.49 42.11 346.89 42.11 346.89 46.66 348.3 46.66 348.3 43.68 349.7 43.68 349.7 51.72 351.1 51.72 351.1 52.65 352.51 52.65 352.51 60.61 353.91 60.61 353.91 48.66 355.31 48.66 355.31 55.47 356.71 55.47 356.71 62.03 358.12 62.03 358.12 67.19 359.52 67.19 359.52 57.36 360.92 57.36 360.92 69.4 362.33 69.4 362.33 69.17 363.73 69.17 363.73 50.28 365.13 50.28 365.13 52.98 366.54 52.98 366.54 62.84 367.94 62.84 367.94 55.36 369.34 55.36 369.34 66.2 370.74 66.2 370.74 56.03 372.15 56.03 372.15 63.95 373.55 63.95 373.55 52.93 374.95 52.93 374.95 61.23 376.36 61.23 376.36 62.73 377.76 62.73 377.76 67.62 379.16 67.62 379.16 71.9 380.57 71.9 380.57 61.01 381.97 61.01 381.97 52.97 383.37 52.97 383.37 73.11 384.77 73.11 384.77 57.86 386.18 57.86 386.18 56.56 387.58 56.56 387.58 55.4 388.98 55.4 388.98 73.27 390.39 73.27 390.39 60.52 391.79 60.52 391.79 65.81 393.19 65.81 393.19 81.42 394.6 81.42 394.6 70.41 396 70.41 396 66.49 397.4 66.49 397.4 74.51 398.8 74.51 398.8 67.94 400.21 67.94 400.21 93.98 401.61 93.98 401.61 67.39 403.01 67.39 403.01 96.09 404.42 96.09 404.42 76.39 405.82 76.39 405.82 73.69 407.22 73.69 407.22 77.73 408.62 77.73 408.62 46.37 410.03 46.37 410.03 71.12 411.43 71.12 411.43 76.06 412.83 76.06 412.83 56.41 414.24 56.41 414.24 102.93 415.64 102.93 415.64 72.44 417.04 72.44 417.04 42.33 418.45 42.33 418.45 103.72 419.85 103.72 419.85 105.87 421.25 105.87 421.25 72.09 422.65 72.09 422.65 71.58 424.06 71.58 424.06 57.3 425.46 57.3 425.46 94.58 426.86 94.58 426.86 87.61 428.27 87.61 428.27 65.99 429.67 65.99 429.67 56 431.07 56 431.07 94.14 432.48 94.14 432.48 50.62 433.88 50.62 433.88 82.28 435.28 82.28 435.28 73.87 436.68 73.87 436.68 48.55 438.09 48.55 438.09 107.39 439.49 107.39 439.49 85.1 440.89 85.1 440.89 111 442.3 111 442.3 82.94 443.7 82.94 443.7 78.37 445.1 78.37 445.1 73.93 446.51 73.93 446.51 87.63 447.91 87.63 447.91 58.44 449.31 58.44 449.31 94.28 450.71 94.28 450.71 46.31 452.12 46.31 452.12 83.16 453.52 83.16 453.52 72.53 454.92 72.53 454.92 46.92 456.33 46.92 456.33 115.95 457.73 115.95 457.73 47.63 459.13 47.63 459.13 83.18 460.54 83.18 460.54 85.4 461.94 85.4 461.94 122.31 463.34 122.31 463.34 49.65 464.74 49.65 464.74 114.44 466.15 114.44 466.15 81.58 467.55 81.58 467.55 104.73 468.95 104.73 468.95 106.91 470.36 106.91 470.36 93.2 471.76 93.2 471.76 105.79 473.16 105.79 473.16 119.8 474.56 119.8 474.56 66.03 475.97 66.03 475.97 88.14 477.37 88.14 477.37 126.32 478.77 126.32 478.77 100.73 480.18 100.73 480.18 92.51 481.58 92.51 481.58 112.95 482.98 112.95 482.98 64.19 484.39 64.19 484.39 130.38 485.79 130.38 485.79 55.55 487.19 55.55 487.19 81.87 488.59 81.87 488.59 123.48 490 123.48 490 94.92 491.4 94.92 491.4 75.54 492.8 75.54 492.8 82.83 494.21 82.83 494.21 111.87 495.61 111.87 495.61 127.15 497.01 127.15 497.01 109.78 498.42 109.78 498.42 64.14 499.82 64.14 499.82 53.71 501.22 53.71 501.22 105.52 502.62 105.52 502.62 92 504.03 92 504.03 118.06 505.43 118.06 505.43 52.87 506.83 52.87 506.83 82.76 508.24 82.76 508.24 112.95 509.64 112.95 509.64 77.97 511.04 77.97 511.04 140.79 512.45 140.79 512.45 120.21 513.85 120.21 513.85 80.41 515.25 80.41 515.25 95.61 516.65 95.61 516.65 98.33 518.06 98.33 518.06 94.75 519.46 94.75 519.46 108.18 520.86 108.18 520.86 88.36 522.27 88.36 522.27 117.41 523.67 117.41 523.67 116.75 525.07 116.75 525.07 110.01 526.48 110.01 526.48 53.45 527.88 53.45 527.88 69.85 529.28 69.85 529.28 142.82 530.68 142.82 530.68 103.53 532.09 103.53 532.09 95.14 533.49 95.14 533.49 99.17 534.89 99.17 534.89 102.97 536.3 102.97 536.3 96.48 537.7 96.48 537.7 149.66 539.1 149.66 539.1 81.96 540.5 81.96 540.5 78.52 541.91 78.52 541.91 132.17 543.31 132.17 543.31 143.37 544.71 143.37 544.71 50.66 546.12 50.66 546.12 147.26 547.52 147.26 547.52 49.85 548.92 49.85 548.92 110.47 550.33 110.47 550.33 148.57 551.73 148.57 551.73 109.86 553.13 109.86 553.13 83.88 554.53 83.88 554.53 114.18 555.94 114.18 555.94 109.69 557.34 109.69 557.34 157.85 558.74 157.85 558.74 108.36 560.15 108.36 560.15 72.72 561.55 72.72 561.55 139.73 562.95 139.73 562.95 78.85 564.36 78.85 564.36 82.16 565.76 82.16 565.76 71.84 567.16 71.84 567.16 31.14 568.56 31.14 568.56 76.46 569.97 76.46 569.97 55.11 571.37 55.11 571.37 26.03 572.77 26.03 572.77 38.34 574.18 38.34 574.18 47.77 575.58 47.77 575.58 64.22 576.98 64.22 576.98 40.89 578.39 40.89 578.39 77.88 579.79 77.88 579.79 26.09 581.19 26.09 581.19 48.56 582.59 48.56 582.59 83.13 584 83.13 584 68.88 585.4 68.88 585.4 26.15 586.8 26.15 586.8 60.67 588.21 60.67 588.21 58.49 589.61 58.49 589.61 60.16 591.01 60.16 591.01 43.75 592.42 43.75 592.42 30.27 593.82 30.27 593.82 65.53 595.22 65.53 595.22 54.38 596.62 54.38 596.62 41.55 598.03 41.55 598.03 66.24 599.43 66.24 599.43 48.36 600.83 48.36 600.83 55.14 602.24 55.14 602.24 34.48 603.64 34.48 603.64 67.29 605.04 67.29 605.04 21.5 606.44 21.5 606.44 21.5 607.85 21.5 607.85 21.5 609.25 21.5 609.25 21.5 610.65 21.5 610.65 23.69 612.06 23.69 612.06 21.5 613.46 21.5 613.46 190Z" fill="#41963f"/>
<path d="M321.64 190L321.64 22.41 323.04 22.41 323.04 24.96 324.45 24.96 324.45 28.1 325.85 28.1 325.85 30.99 327.25 30.99 327.25 36.26 328.66 36.26 328.66 42.5 330.06 42.5 330.06 44.28 331.46 44.28 331.46 45.55 332.86 45.55 332.86 46.87 334.27 46.87 334.27 48.27 335.67 48.27 335.67 49.62 337.07 49.62 337.07 50.84 338.48 50.84 338.48 52.08 339.88 52.08 339.88 53.48 341.28 53.48 341.28 54.88 342.68 54.88 342.68 56.1 344.09 56.1 344.09 57.32 345.49 57.32 345.49 58.69 346.89 58.69 346.89 60.1 348.3 60.1 348.3 61.27 349.7 61.27 349.7 62.34 351.1 62.34 351.1 63.6 352.51 63.6 352.51 65.01 353.91 65.01 353.91 66.33 355.31 66.33 355.31 67.54 356.71 67.54 356.71 68.79 358.12 68.79 358.12 70.1 359.52 70.1 359.52 71.31 360.92 71.31 360.92 72.01 362.33 72.01 362.33 72.71 363.73 72.71 363.73 73.42 365.13 73.42 365.13 73.98 366.54 73.98 366.54 74.46 367.94 74.46 367.94 74.94 369.34 74.94 369.34 75.42 370.74 75.42 370.74 76.21 372.15 76.21 372.15 77 373.55 77 373.55 77.78 374.95 77.78 374.95 78.58 376.36 78.58 376.36 79.39 377.76 79.39 377.76 80.21 379.16 80.21 379.16 81.02 380.57 81.02 380.57 82.62 381.97 82.62 381.97 85.38 383.37 85.38 383.37 89.23 384.77 89.23 384.77 89.89 386.18 89.89 386.18 90.54 387.58 90.54 387.58 91.03 388.98 91.03 388.98 91.49 390.39 91.49 390.39 92.12 391.79 92.12 391.79 92.78 393.19 92.78 393.19 93.45 394.6 93.45 394.6 96.59 396 96.59 396 97.01 397.4 97.01 397.4 97.43 398.8 97.43 398.8 97.85 400.21 97.85 400.21 98.42 401.61 98.42 401.61 99.08 403.01 99.08 403.01 99.65 404.42 99.65 404.42 100.14 405.82 100.14 405.82 100.61 407.22 100.61 407.22 101.07 408.62 101.07 408.62 101.81 410.03 101.81 410.03 102.56 411.43 102.56 411.43 103.53 412.83 103.53 412.83 104.56 414.24 104.56 414.24 105.12 415.64 105.12 415.64 105.57 417.04 105.57 417.04 106.56 418.45 106.56 418.45 107.55 419.85 107.55 419.85 108.53 421.25 108.53 421.25 109.52 422.65 109.52 422.65 110.45 424.06 110.45 424.06 110.87 425.46 110.87 425.46 111.29 426.86 111.29 426.86 111.71 428.27 111.71 428.27 112.13 429.67 112.13 429.67 112.57 431.07 112.57 431.07 113.12 432.48 113.12 432.48 113.67 433.88 113.67 433.88 114.23 435.28 114.23 435.28 114.78 436.68 114.78 436.68 115.36 438.09 115.36 438.09 116.34 439.49 116.34 439.49 117.32 440.89 117.32 440.89 118.31 442.3 118.31 442.3 119.29 443.7 119.29 443.7 120.24 445.1 120.24 445.1 120.84 446.51 120.84 446.51 121.45 447.91 121.45 447.91 122.05 449.31 122.05 449.31 122.65 450.71 122.65 450.71 123.23 452.12 123.23 452.12 123.63 453.52 123.63 453.52 124.02 454.92 124.02 454.92 124.41 456.33 124.41 456.33 124.81 457.73 124.81 457.73 125.51 459.13 125.51 459.13 126.2 460.54 126.2 460.54 126.89 461.94 126.89 461.94 127.58 463.34 127.58 463.34 128.27 464.74 128.27 464.74 128.84 466.15 128.84 466.15 129.4 467.55 129.4 467.55 129.96 468.95 129.96 468.95 130.52 470.36 130.52 470.36 131.08 471.76 131.08 471.76 131.77 473.16 131.77 473.16 132.46 474.56 132.46 474.56 133.15 475.97 133.15 475.97 133.85 477.37 133.85 477.37 134.54 478.77 134.54 478.77 135.26 480.18 135.26 480.18 135.98 481.58 135.98 481.58 136.7 482.98 136.7 482.98 137.42 484.39 137.42 484.39 138.14 485.79 138.14 485.79 138.58 487.19 138.58 487.19 139 488.59 139 488.59 139.41 490 139.41 490 139.83 491.4 139.83 491.4 140.24 492.8 140.24 492.8 140.54 494.21 140.54 494.21 140.82 495.61 140.82 495.61 141.1 497.01 141.1 497.01 141.38 498.42 141.38 498.42 141.66 499.82 141.66 499.82 141.98 501.22 141.98 501.22 142.3 502.62 142.3 502.62 142.62 504.03 142.62 504.03 142.94 505.43 142.94 505.43 143.26 506.83 143.26 506.83 143.8 508.24 143.8 508.24 144.36 509.64 144.36 509.64 144.93 511.04 144.93 511.04 145.5 512.45 145.5 512.45 146.17 513.85 146.17 513.85 146.86 515.25 146.86 515.25 147.55 516.65 147.55 516.65 148.24 518.06 148.24 518.06 148.93 519.46 148.93 519.46 149.74 520.86 149.74 520.86 150.58 522.27 150.58 522.27 151.42 523.67 151.42 523.67 152.26 525.07 152.26 525.07 153.1 526.48 153.1 526.48 153.83 527.88 153.83 527.88 154.52 529.28 154.52 529.28 155.21 530.68 155.21 530.68 155.91 532.09 155.91 532.09 156.6 533.49 156.6 533.49 157.41 534.89 157.41 534.89 158.27 536.3 158.27 536.3 159.13 537.7 159.13 537.7 159.99 539.1 159.99 539.1 160.86 540.5 160.86 540.5 161.5 541.91 161.5 541.91 162.05 543.31 162.05 543.31 162.6 544.71 162.6 544.71 163.16 546.12 163.16 546.12 163.71 547.52 163.71 547.52 164.27 548.92 164.27 548.92 164.83 550.33 164.83 550.33 165.39 551.73 165.39 551.73 165.95 553.13 165.95 553.13 166.51 554.53 166.51 554.53 166.95 555.94 166.95 555.94 167.33 557.34 167.33 557.34 167.72 558.74 167.72 558.74 168.1 560.15 168.1 560.15 168.48 561.55 168.48 561.55 168.9 562.95 168.9 562.95 169.33 564.36 169.33 564.36 169.83 565.76 169.83 565.76 170.36 567.16 170.36 567.16 170.9 568.56 170.9 568.56 171.42 569.97 171.42 569.97 171.94 571.37 171.94 571.37 172.47 572.77 172.47 572.77 172.84 574.18 172.84 574.18 173.08 575.58 173.08 575.58 173.33 576.98 173.33 576.98 173.57 578.39 173.57 578.39 173.83 579.79 173.83 579.79 174.39 581.19 174.39 581.19 174.95 582.59 174.95 582.59 175.5 584 175.5 584 176.02 585.4 176.02 585.4 176.46 586.8 176.46 586.8 176.89 588.21 176.89 588.21 177.49 589.61 177.49 589.61 178.48 591.01 178.48 591.01 179.48 592.42 179.48 592.42 180.47 593.82 180.47 593.82 181.38 595.22 181.38 595.22 182.27 596.62 182.27 596.62 183.17 598.03 183.17 598.03 184.06 599.43 184.06 599.43 184.51 600.83 184.51 600.83 184.81 602.24 184.81 602.24 185.1 603.64 185.1 603.64 185.39 605.04 185.39 605.04 186.07 606.44 186.07 606.44 186.77 607.85 186.77 607.85 187.47 609.25 187.47 609.25 188.02 610.65 188.02 610.65 188.55 612.06 188.55 612.06 189.08 613.46 189.08 613.46 190Z" fill="#6a51a3"/>
<path d="M25.86 198.1v2M26.96 198.1v2M28.06 198.1v2M29.16 198.1v2M30.25 198.1v2M31.35 198.1v2M32.45 198.1v2M33.55 198.1v2M34.65 198.1v2M35.75 198.1v2M36.85 198.1v2M37.95 198.1v2M39.04 198.1v2M40.14 198.1v2M41.24 198.1v2M42.34 198.1v2M43.44 198.1v2M44.54 198.1v2M45.64 198.1v2M46.74 198.1v2M47.84 198.1v2M48.93 198.1v2M50.03 198.1v2M51.13 198.1v2M52.23 198.1v2M53.33 198.1v2M54.43 198.1v2M55.53 198.1v2M56.63 198.1v2M57.72 198.1v2M58.82 198.1v2M59.92 198.1v2M61.02 198.1v2M62.12 198.1v2M63.22 198.1v2M64.32 198.1v2M65.42 198.1v2M66.51 198.1v2M67.61 198.1v2M68.71 198.1v2M69.81 198.1v2M70.91 198.1v2M72.01 198.1v2M73.11 198.1v2M74.21 198.1v2M75.31 198.1v2M76.4 198.1v2M77.5 198.1v2M78.6 198.1v2M79.7 198.1v2M80.8 198.1v2M81.9 198.1v2M83 198.1v2M84.1 198.1v2M85.19 198.1v2M86.29 198.1v2M87.39 198.1v2M88.49 198.1v2M89.59 198.1v2M90.69 198.1v2M91.79 198.1v2M92.89 198.1v2M93.98 198.1v2M95.08 198.1v2M96.18 198.1v2M97.28 198.1v2M98.38 198.1v2M99.48 198.1v2M100.58 198.1v2M101.68 198.1v2M102.78 198.1v2M103.87 198.1v2M104.97 198.1v2M106.07 198.1v2M107.17 198.1v2M108.27 198.1v2M109.37 198.1v2M110.47 198.1v2M111.57 198.1v2M112.66 198.1v2M113.76 198.1v2M114.86 198.1v2M115.96 198.1v2M117.06 198.1v2M118.16 198.1v2M119.26 198.1v2M120.36 198.1v2M121.45 198.1v2M122.55 198.1v2M123.65 198.1v2M124.75 198.1v2M125.85 198.1v2M126.95 198.1v2M128.05 198.1v2M129.15 198.1v2M130.25 198.1v2M131.34 198.1v2M132.44 198.1v2M133.54 198.1v2M134.64 198.1v2M135.74 198.1v2M136.84 198.1v2M137.94 198.1v2M139.04 198.1v2M140.13 198.1v2M141.23 198.1v2M142.33 198.1v2M143.43 198.1v2M144.53 198.1v2M145.63 198.1v2M146.73 198.1v2M147.83 198.1v2M148.92 198.1v2M150.02 198.1v2M151.12 198.1v2M152.22 198.1v2M153.32 198.1v2M154.42 198.1v2M155.52 198.1v2M156.62 198.1v2M157.72 198.1v2M158.81 198.1v2M159.91 198.1v2M161.01 198.1v2M162.11 198.1v2M163.21 198.1v2M164.31 198.1v2M165.41 198.1v2M166.51 198.1v2M167.6 198.1v2M168.7 198.1v2M169.8 198.1v2M170.9 198.1v2M172 198.1v2M173.1 198.1v2M174.2 198.1v2M175.3 198.1v2M176.39 198.1v2M177.49 198.1v2M178.59 198.1v2M179.69 198.1v2M180.79 198.1v2M181.89 198.1v2M182.99 198.1v2M184.09 198.1v2M185.18 198.1v2M186.28 198.1v2M187.38 198.1v2M188.48 198.1v2M189.58 198.1v2M190.68 198.1v2M191.78 198.1v2M192.88 198.1v2M193.98 198.1v2M195.07 198.1v2M196.17 198.1v2M197.27 198.1v2M198.37 198.1v2M199.47 198.1v2M200.57 198.1v2M201.67 198.1v2M202.77 198.1v2M203.86 198.1v2M204.96 198.1v2M206.06 198.1v2M207.16 198.1v2M208.26 198.1v2M209.36 198.1v2M210.46 198.1v2M211.56 198.1v2M212.65 198.1v2M213.75 198.1v2M214.85 198.1v2M215.95 198.1v2M217.05 198.1v2M218.15 198.1v2M219.25 198.1v2M220.35 198.1v2M221.45 198.1v2M222.54 198.1v2M223.64 198.1v2M224.74 198.1v2M225.84 198.1v2M226.94 198.1v2M228.04 198.1v2M229.14 198.1v2M230.24 198.1v2M231.33 198.1v2M232.43 198.1v2M233.53 198.1v2M234.63 198.1v2M235.73 198.1v2M236.83 198.1v2M237.93 198.1v2M239.03 198.1v2M240.12 198.1v2M241.22 198.1v2M242.32 198.1v2M243.42 198.1v2M244.52 198.1v2M245.62 198.1v2M246.72 198.1v2M247.82 198.1v2M248.92 198.1v2M250.01 198.1v2M251.11 198.1v2M252.21 198.1v2M253.31 198.1v2M254.41 198.1v2M255.51 198.1v2M256.61 198.1v2M257.71 198.1v2M258.8 198.1v2M259.9 198.1v2M261 198.1v2M262.1 198.1v2M263.2 198.1v2M264.3 198.1v2M265.4 198.1v2M266.5 198.1v2M267.59 198.1v2M268.69 198.1v2M269.79 198.1v2M270.89 198.1v2M271.99 198.1v2M273.09 198.1v2M274.19 198.1v2M275.29 198.1v2M276.39 198.1v2M277.48 198.1v2M278.58 198.1v2M279.68 198.1v2M280.78 198.1v2M281.88 198.1v2M282.98 198.1v2M284.08 198.1v2M285.18 198.1v2M286.27 198.1v2M287.37 198.1v2M288.47 198.1v2M289.57 198.1v2M290.67 198.1v2M291.77 198.1v2M292.87 198.1v2M293.97 198.1v2M295.06 198.1v2M296.16 198.1v2M297.26 198.1v2M298.36 198.1v2M299.46 198.1v2M300.56 198.1v2M301.66 198.1v2M302.76 198.1v2M303.86 198.1v2M304.95 198.1v2M306.05 198.1v2M307.15 198.1v2M308.25 198.1v2M309.35 198.1v2M310.45 198.1v2M311.55 198.1v2M312.65 198.1v2M313.74 198.1v2M314.84 198.1v2M315.94 198.1v2M317.04 198.1v2" stroke="#333" stroke-width="0.75" fill="none"/>
<path d="M322.34 198.1v2M323.74 198.1v2M325.15 198.1v2M326.55 198.1v2M327.95 198.1v2M329.36 198.1v2M330.76 198.1v2M332.16 198.1v2M333.57 198.1v2M334.97 198.1v2M336.37 198.1v2M337.77 198.1v2M339.18 198.1v2M340.58 198.1v2M341.98 198.1v2M343.39 198.1v2M344.79 198.1v2M346.19 198.1v2M347.6 198.1v2M349 198.1v2M350.4 198.1v2M351.8 198.1v2M353.21 198.1v2M354.61 198.1v2M356.01 198.1v2M357.42 198.1v2M358.82 198.1v2M360.22 198.1v2M361.63 198.1v2M363.03 198.1v2M364.43 198.1v2M365.83 198.1v2M367.24 198.1v2M368.64 198.1v2M370.04 198.1v2M371.45 198.1v2M372.85 198.1v2M374.25 198.1v2M375.65 198.1v2M377.06 198.1v2M378.46 198.1v2M379.86 198.1v2M381.27 198.1v2M382.67 198.1v2M384.07 198.1v2M385.48 198.1v2M386.88 198.1v2M388.28 198.1v2M389.68 198.1v2M391.09 198.1v2M392.49 198.1v2M393.89 198.1v2M395.3 198.1v2M396.7 198.1v2M398.1 198.1v2M399.51 198.1v2M400.91 198.1v2M402.31 198.1v2M403.71 198.1v2M405.12 198.1v2M406.52 198.1v2M407.92 198.1v2M409.33 198.1v2M410.73 198.1v2M412.13 198.1v2M413.54 198.1v2M414.94 198.1v2M416.34 198.1v2M417.74 198.1v2M419.15 198.1v2M420.55 198.1v2M421.95 198.1v2M423.36 198.1v2M424.76 198.1v2M426.16 198.1v2M427.57 198.1v2M428.97 198.1v2M430.37 198.1v2M431.77 198.1v2M433.18 198.1v2M434.58 198.1v2M435.98 198.1v2M437.39 198.1v2M438.79 198.1v2M440.19 198.1v2M441.59 198.1v2M443 198.1v2M444.4 198.1v2M445.8 198.1v2M447.21 198.1v2M448.61 198.1v2M450.01 198.1v2M451.42 198.1v2M452.82 198.1v2M454.22 198.1v2M455.62 198.1v2M457.03 198.1v2M458.43 198.1v2M459.83 198.1v2M461.24 198.1v2M462.64 198.1v2M464.04 198.1v2M465.45 198.1v2M466.85 198.1v2M468.25 198.1v2M469.65 198.1v2M471.06 198.1v2M472.46 198.1v2M473.86 198.1v2M475.27 198.1v2M476.67 198.1v2M478.07 198.1v2M479.48 198.1v2M480.88 198.1v2M482.28 198.1v2M483.68 198.1v2M485.09 198.1v2M486.49 198.1v2M487.89 198.1v2M489.3 198.1v2M490.7 198.1v2M492.1 198.1v2M493.51 198.1v2M494.91 198.1v2M496.31 198.1v2M497.71 198.1v2M499.12 198.1v2M500.52 198.1v2M501.92 198.1v2M503.33 198.1v2M504.73 198.1v2M506.13 198.1v2M507.53 198.1v2M508.94 198.1v2M510.34 198.1v2M511.74 198.1v2M513.15 198.1v2M514.55 198.1v2M515.95 198.1v2M517.36 198.1v2M518.76 198.1v2M520.16 198.1v2M521.56 198.1v2M522.97 198.1v2M524.37 198.1v2M525.77 198.1v2M527.18 198.1v2M528.58 198.1v2M529.98 198.1v2M531.39 198.1v2M532.79 198.1v2M534.19 198.1v2M535.59 198.1v2M537 198.1v2M538.4 198.1v2M539.8 198.1v2M541.21 198.1v2M542.61 198.1v2M544.01 198.1v2M545.42 198.1v2M546.82 198.1v2M548.22 198.1v2M549.62 198.1v2M551.03 198.1v2M552.43 198.1v2M553.83 198.1v2M555.24 198.1v2M556.64 198.1v2M558.04 198.1v2M559.45 198.1v2M560.85 198.1v2M562.25 198.1v2M563.65 198.1v2M565.06 198.1v2M566.46 198.1v2M567.86 198.1v2M569.27 198.1v2M570.67 198.1v2M572.07 198.1v2M573.47 198.1v2M574.88 198.1v2M576.28 198.1v2M577.68 198.1v2M579.09 198.1v2M580.49 198.1v2M581.89 198.1v2M583.3 198.1v2M584.7 198.1v2M586.1 198.1v2M587.5 198.1v2M588.91 198.1v2M590.31 198.1v2M591.71 198.1v2M593.12 198.1v2M594.52 198.1v2M595.92 198.1v2M597.33 198.1v2M598.73 198.1v2M600.13 198.1v2M601.53 198.1v2M602.94 198.1v2M604.34 198.1v2M605.74 198.1v2M607.15 198.1v2M608.55 198.1v2M609.95 198.1v2M611.36 198.1v2M612.76 198.1v2" stroke="#333" stroke-width="0.75" fill="none"/>
<path d="M23 190H25.2" stroke="#333" stroke-width="0.6"/>
<text x="21.6" y="191.9" text-anchor="end" font-size="5.7" fill="#4d4d4d" color="#4d4d4d">0</text>
<path d="M23 147.88H25.2" stroke="#333" stroke-width="0.6"/>
<text x="21.6" y="149.78" text-anchor="end" font-size="5.7" fill="#4d4d4d" color="#4d4d4d">25</text>
<path d="M23 105.75H25.2" stroke="#333" stroke-width="0.6"/>
<text x="21.6" y="107.65" text-anchor="end" font-size="5.7" fill="#4d4d4d" color="#4d4d4d">50</text>
<path d="M23 63.62H25.2" stroke="#333" stroke-width="0.6"/>
<text x="21.6" y="65.53" text-anchor="end" font-size="5.7" fill="#4d4d4d" color="#4d4d4d">75</text>
<path d="M23 21.5H25.2" stroke="#333" stroke-width="0.6"/>
<text x="21.6" y="23.4" text-anchor="end" font-size="5.7" fill="#4d4d4d" color="#4d4d4d">100</text>
<text x="171.4" y="9.1" text-anchor="middle" font-size="6.4" fill="#1a1a1a" color="#1a1a1a">no/mild</text>
<text x="467.5" y="9.1" text-anchor="middle" font-size="6.35" fill="#1a1a1a" color="#1a1a1a">moderate/severe</text>
<text transform="translate(7.2 105.7) rotate(-90)" text-anchor="middle" font-size="7.9">Abundance</text>
<text x="319.4" y="207.8" text-anchor="middle" font-size="7.8">Sample</text>
<text x="626" y="75.1" font-size="7.8">Phylum</text>
<rect x="626" y="80.1" width="11.9" height="12.45" fill="#6a51a3"/>
<text x="642.4" y="88.7" font-size="6.3">Firmicutes</text>
<rect x="626" y="92.55" width="11.9" height="12.45" fill="#41963f"/>
<text x="642.4" y="101.15" font-size="6.3">Proteobacteria</text>
<rect x="626" y="105" width="11.9" height="12.45" fill="#f5821f"/>
<text x="642.4" y="113.6" font-size="6.3">Actinobacteria</text>
<rect x="626" y="117.45" width="11.9" height="12.45" fill="#579fd1"/>
<text x="642.4" y="126.05" font-size="6.3">Bacteroidetes</text>
<rect x="626" y="129.9" width="11.9" height="12.45" fill="#4d4d4d"/>
<text x="642.4" y="138.5" font-size="6.3">Other</text>
<text x="-0.1" y="7.2" font-size="10.5" font-weight="bold">a</text>
<path d="M73.1 322.6L73.1 262.2A60.4 60.4 0 1 1 17.67 346.59Z" fill="#b6dab4"/>
<path d="M73.1 322.6L17.67 346.59A60.4 60.4 0 0 1 63.03 263.05Z" fill="#91b0c6"/>
<path d="M73.1 322.6L63.03 263.05A60.4 60.4 0 0 1 65.11 262.73Z" fill="#dcc256"/>
<path d="M73.1 322.6L65.11 262.73A60.4 60.4 0 0 1 73.1 262.2Z" fill="#8a4868"/>
<text x="-0.2" y="224.9" font-size="10.5" font-weight="bold">b</text>
<text x="152.4" y="298.5" font-size="7.9">Symptom</text>
<rect x="152.9" y="304.05" width="11.5" height="11.6" fill="#8a4868"/>
<text x="169.1" y="312.1" font-size="6.3">None</text>
<rect x="152.9" y="316.15" width="11.5" height="11.6" fill="#dcc256"/>
<text x="169.1" y="324.2" font-size="6.3">Obstructive</text>
<rect x="152.9" y="328.25" width="11.5" height="11.6" fill="#91b0c6"/>
<text x="169.1" y="336.3" font-size="6.3">Irritative</text>
<rect x="152.9" y="340.35" width="11.5" height="11.6" fill="#b6dab4"/>
<text x="169.1" y="348.4" font-size="6.3">Both</text>
<clipPath id="cc0"><rect x="231.6" y="230.3" width="60.9" height="177"/></clipPath>
<rect x="231.6" y="230.3" width="60.9" height="177" fill="#fff"/>
<path d="M231.6 395.91H292.5M231.6 358.89H292.5M231.6 321.86H292.5M231.6 284.84H292.5M231.6 247.81H292.5M243.65 230.3V407.3M262.15 230.3V407.3M280.65 230.3V407.3" stroke="#f1f1f1" stroke-width="0.45"/>
<path d="M231.6 377.4H292.5M231.6 340.38H292.5M231.6 303.35H292.5M231.6 266.32H292.5M234.4 230.3V407.3M252.9 230.3V407.3M271.4 230.3V407.3M289.9 230.3V407.3" stroke="#ebebeb" stroke-width="0.8"/>
<g clip-path="url(#cc0)">
<path d="M234.4 325.84 235.2 325.33 236.01 324.8 236.81 324.24 237.62 323.64 238.42 323.01 239.22 322.34 240.03 321.63 240.83 320.88 241.64 320.09 242.44 319.25 243.25 318.37 244.05 317.44 244.85 316.45 245.66 315.42 246.46 314.34 247.27 313.21 248.07 312.03 248.87 310.81 249.68 309.54 250.48 308.22 251.29 306.86 252.09 305.46 252.9 304.02 253.7 302.54 254.5 301.04 255.31 299.5 256.11 297.93 256.92 296.33 257.72 294.71 258.52 293.06 259.33 291.39 260.13 289.7 260.94 288 261.74 286.27 262.54 284.53 263.35 282.78 264.15 281.01 264.96 279.23 265.76 277.44 266.57 275.64 267.37 273.83 268.17 272.01 268.98 270.17 269.78 268.34 270.59 266.49 271.39 264.64 272.19 262.78 273 260.92 273.8 259.05 274.61 257.17 275.41 255.29 276.21 253.4 277.02 251.51 277.82 249.62 278.63 247.72 279.43 245.82 280.24 243.92 281.04 242.01 281.84 240.1 282.65 238.19 282.65 331.84 281.84 332.02 281.04 332.2 280.24 332.39 279.43 332.58 278.63 332.77 277.82 332.96 277.02 333.16 276.21 333.36 275.41 333.57 274.61 333.78 273.8 334 273 334.22 272.19 334.45 271.39 334.68 270.59 334.92 269.78 335.17 268.98 335.42 268.17 335.68 267.37 335.95 266.57 336.23 265.76 336.52 264.96 336.83 264.15 337.14 263.35 337.46 262.54 337.8 261.74 338.15 260.94 338.52 260.13 338.91 259.33 339.31 258.52 339.74 257.72 340.18 256.92 340.65 256.11 341.15 255.31 341.67 254.5 342.22 253.7 342.8 252.9 343.42 252.09 344.07 251.29 344.77 250.48 345.5 249.68 346.27 248.87 347.09 248.07 347.96 247.27 348.87 246.46 349.83 245.66 350.85 244.85 351.91 244.05 353.02 243.25 354.18 242.44 355.39 241.64 356.64 240.83 357.94 240.03 359.28 239.22 360.67 238.42 362.09 237.62 363.55 236.81 365.05 236.01 366.58 235.2 368.14 234.4 369.72Z" fill="#df646e" fill-opacity="0.4"/>
<path d="M234.4 347.78L282.65 285.02" stroke="#3a5eff" stroke-width="1.45"/>
<path d="M238.1 307.38 238.96 308.79 239.83 310.19 240.69 311.58 241.55 312.96 242.42 314.33 243.28 315.68 244.14 317.01 245.01 318.32 245.87 319.6 246.73 320.85 247.6 322.07 248.46 323.24 249.32 324.36 250.19 325.42 251.05 326.4 251.91 327.3 252.78 328.11 253.64 328.82 254.5 329.42 255.37 329.92 256.23 330.33 257.09 330.63 257.96 330.86 258.82 331.02 259.68 331.12 260.55 331.16 261.41 331.16 262.27 331.13 263.14 331.06 264 330.97 264.86 330.86 265.73 330.73 266.59 330.59 267.45 330.43 268.32 330.26 269.18 330.08 270.04 329.9 270.91 329.7 271.77 329.5 272.63 329.29 273.5 329.08 274.36 328.87 275.22 328.65 276.09 328.42 276.95 328.2 277.81 327.97 278.68 327.73 279.54 327.5 280.4 327.26 281.27 327.02 282.13 326.78 282.99 326.54 283.86 326.3 284.72 326.05 285.58 325.8 286.45 325.56 287.31 325.31 288.17 325.06 289.04 324.81 289.9 324.56 289.9 399.29 289.04 397.82 288.17 396.34 287.31 394.87 286.45 393.4 285.58 391.93 284.72 390.46 283.86 388.99 282.99 387.52 282.13 386.05 281.27 384.59 280.4 383.13 279.54 381.67 278.68 380.21 277.81 378.76 276.95 377.3 276.09 375.85 275.22 374.4 274.36 372.96 273.5 371.52 272.63 370.09 271.77 368.66 270.91 367.23 270.04 365.82 269.18 364.4 268.32 363 267.45 361.61 266.59 360.23 265.73 358.86 264.86 357.51 264 356.17 263.14 354.86 262.27 353.57 261.41 352.32 260.55 351.09 259.68 349.92 258.82 348.79 257.96 347.72 257.09 346.73 256.23 345.81 255.37 344.99 254.5 344.27 253.64 343.65 252.78 343.13 251.91 342.72 251.05 342.4 250.19 342.16 249.32 341.99 248.46 341.89 247.6 341.84 246.73 341.83 245.87 341.86 245.01 341.92 244.14 342 243.28 342.11 242.42 342.24 241.55 342.38 240.69 342.54 239.83 342.71 238.96 342.88 238.1 343.07Z" fill="#1edac1" fill-opacity="0.4"/>
<path d="M238.1 325.22L289.9 361.92" stroke="#3a5eff" stroke-width="1.45"/>
</g>
<rect x="231.6" y="230.3" width="60.9" height="177" fill="none" stroke="#979797" stroke-width="1"/>
<rect x="231.6" y="217.8" width="60.9" height="12.5" fill="#fff" stroke="#979797" stroke-width="1"/><text x="262.05" y="226.6" text-anchor="middle" font-size="6.3" fill="#1a1a1a" color="#1a1a1a">healthy weight</text>
<path d="M234.4 407.8v2.1" stroke="#333" stroke-width="0.75"/>
<text x="234.4" y="416" text-anchor="middle" font-size="6.3" fill="#4d4d4d" color="#4d4d4d">0</text>
<path d="M252.9 407.8v2.1" stroke="#333" stroke-width="0.75"/>
<text x="252.9" y="416" text-anchor="middle" font-size="6.3" fill="#4d4d4d" color="#4d4d4d">5</text>
<path d="M271.4 407.8v2.1" stroke="#333" stroke-width="0.75"/>
<text x="271.4" y="416" text-anchor="middle" font-size="6.3" fill="#4d4d4d" color="#4d4d4d">10</text>
<path d="M289.9 407.8v2.1" stroke="#333" stroke-width="0.75"/>
<text x="289.9" y="416" text-anchor="middle" font-size="6.3" fill="#4d4d4d" color="#4d4d4d">15</text>
<clipPath id="cc1"><rect x="296.5" y="230.3" width="61" height="177"/></clipPath>
<rect x="296.5" y="230.3" width="61" height="177" fill="#fff"/>
<path d="M296.5 395.91H357.5M296.5 358.89H357.5M296.5 321.86H357.5M296.5 284.84H357.5M296.5 247.81H357.5M308.55 230.3V407.3M327.05 230.3V407.3M345.55 230.3V407.3" stroke="#f1f1f1" stroke-width="0.45"/>
<path d="M296.5 377.4H357.5M296.5 340.38H357.5M296.5 303.35H357.5M296.5 266.32H357.5M299.3 230.3V407.3M317.8 230.3V407.3M336.3 230.3V407.3M354.8 230.3V407.3" stroke="#ebebeb" stroke-width="0.8"/>
<g clip-path="url(#cc1)">
<path d="M299.3 296.17 300.1 297.73 300.9 299.27 301.7 300.81 302.51 302.34 303.31 303.84 304.11 305.34 304.91 306.81 305.71 308.26 306.51 309.68 307.32 311.07 308.12 312.42 308.92 313.73 309.72 314.98 310.52 316.18 311.32 317.31 312.13 318.36 312.93 319.33 313.73 320.22 314.53 321.01 315.33 321.71 316.13 322.32 316.94 322.86 317.74 323.31 318.54 323.7 319.34 324.03 320.14 324.31 320.94 324.55 321.75 324.75 322.55 324.92 323.35 325.06 324.15 325.18 324.95 325.28 325.75 325.36 326.56 325.42 327.36 325.48 328.16 325.52 328.96 325.55 329.76 325.58 330.56 325.59 331.37 325.6 332.17 325.61 332.97 325.61 333.77 325.6 334.57 325.59 335.38 325.58 336.18 325.56 336.98 325.54 337.78 325.52 338.58 325.49 339.38 325.46 340.19 325.43 340.99 325.4 341.79 325.37 342.59 325.33 343.39 325.29 344.19 325.25 345 325.21 345.8 325.17 346.6 325.13 347.4 325.09 347.4 398.43 346.6 396.8 345.8 395.17 345 393.53 344.19 391.9 343.39 390.27 342.59 388.64 341.79 387.01 340.99 385.39 340.19 383.77 339.38 382.14 338.58 380.52 337.78 378.91 336.98 377.29 336.18 375.68 335.38 374.07 334.57 372.47 333.77 370.86 332.97 369.27 332.17 367.67 331.37 366.09 330.56 364.5 329.76 362.93 328.96 361.36 328.16 359.8 327.36 358.25 326.56 356.72 325.75 355.19 324.95 353.68 324.15 352.19 323.35 350.71 322.55 349.26 321.75 347.84 320.94 346.45 320.14 345.09 319.34 343.78 318.54 342.52 317.74 341.32 316.94 340.19 316.13 339.13 315.33 338.15 314.53 337.26 313.73 336.46 312.93 335.75 312.13 335.13 311.32 334.59 310.52 334.13 309.72 333.73 308.92 333.4 308.12 333.11 307.32 332.87 306.51 332.67 305.71 332.5 304.91 332.36 304.11 332.24 303.31 332.14 302.51 332.06 301.7 331.99 300.9 331.94 300.1 331.89 299.3 331.86Z" fill="#df646e" fill-opacity="0.4"/>
<path d="M299.3 314.01L347.4 361.76" stroke="#3a5eff" stroke-width="1.45"/>
<path d="M299.3 317.11 300.17 317.35 301.04 317.59 301.91 317.82 302.78 318.05 303.65 318.26 304.52 318.46 305.39 318.66 306.26 318.84 307.13 319 308 319.15 308.86 319.29 309.73 319.4 310.6 319.5 311.47 319.57 312.34 319.61 313.21 319.63 314.08 319.61 314.95 319.56 315.82 319.48 316.69 319.36 317.56 319.2 318.43 319 319.3 318.76 320.17 318.48 321.04 318.17 321.91 317.81 322.78 317.42 323.65 316.99 324.52 316.53 325.38 316.05 326.25 315.53 327.12 315 327.99 314.44 328.86 313.86 329.73 313.26 330.6 312.65 331.47 312.03 332.34 311.39 333.21 310.74 334.08 310.08 334.95 309.41 335.82 308.73 336.69 308.04 337.56 307.35 338.43 306.65 339.3 305.95 340.17 305.24 341.04 304.53 341.91 303.81 342.78 303.09 343.64 302.36 344.51 301.64 345.38 300.9 346.25 300.17 347.12 299.43 347.99 298.69 348.86 297.95 349.73 297.21 350.6 296.47 351.47 295.72 351.47 340.62 350.6 340.32 349.73 340.02 348.86 339.73 347.99 339.44 347.12 339.15 346.25 338.86 345.38 338.57 344.51 338.29 343.64 338.01 342.78 337.74 341.91 337.46 341.04 337.2 340.17 336.93 339.3 336.67 338.43 336.42 337.56 336.17 336.69 335.92 335.82 335.69 334.95 335.46 334.08 335.24 333.21 335.03 332.34 334.83 331.47 334.64 330.6 334.46 329.73 334.3 328.86 334.15 327.99 334.02 327.12 333.91 326.25 333.82 325.38 333.76 324.52 333.72 323.65 333.71 322.78 333.74 321.91 333.79 321.04 333.89 320.17 334.02 319.3 334.18 318.43 334.39 317.56 334.64 316.69 334.93 315.82 335.26 314.95 335.63 314.08 336.03 313.21 336.46 312.34 336.93 311.47 337.42 310.6 337.94 309.73 338.48 308.86 339.05 308 339.63 307.13 340.23 306.26 340.85 305.39 341.48 304.52 342.12 303.65 342.77 302.78 343.43 301.91 344.1 301.04 344.78 300.17 345.47 299.3 346.16Z" fill="#1edac1" fill-opacity="0.4"/>
<path d="M299.3 331.64L351.47 318.17" stroke="#3a5eff" stroke-width="1.45"/>
</g>
<rect x="296.5" y="230.3" width="61" height="177" fill="none" stroke="#979797" stroke-width="1"/>
<rect x="296.5" y="217.8" width="61" height="12.5" fill="#fff" stroke="#979797" stroke-width="1"/><text x="327" y="226.6" text-anchor="middle" font-size="6.3" fill="#1a1a1a" color="#1a1a1a">overweight</text>
<path d="M299.3 407.8v2.1" stroke="#333" stroke-width="0.75"/>
<text x="299.3" y="416" text-anchor="middle" font-size="6.3" fill="#4d4d4d" color="#4d4d4d">0</text>
<path d="M317.8 407.8v2.1" stroke="#333" stroke-width="0.75"/>
<text x="317.8" y="416" text-anchor="middle" font-size="6.3" fill="#4d4d4d" color="#4d4d4d">5</text>
<path d="M336.3 407.8v2.1" stroke="#333" stroke-width="0.75"/>
<text x="336.3" y="416" text-anchor="middle" font-size="6.3" fill="#4d4d4d" color="#4d4d4d">10</text>
<path d="M354.8 407.8v2.1" stroke="#333" stroke-width="0.75"/>
<text x="354.8" y="416" text-anchor="middle" font-size="6.3" fill="#4d4d4d" color="#4d4d4d">15</text>
<clipPath id="cc2"><rect x="361.5" y="230.3" width="61.1" height="177"/></clipPath>
<rect x="361.5" y="230.3" width="61.1" height="177" fill="#fff"/>
<path d="M361.5 395.91H422.6M361.5 358.89H422.6M361.5 321.86H422.6M361.5 284.84H422.6M361.5 247.81H422.6M373.55 230.3V407.3M392.05 230.3V407.3M410.55 230.3V407.3" stroke="#f1f1f1" stroke-width="0.45"/>
<path d="M361.5 377.4H422.6M361.5 340.38H422.6M361.5 303.35H422.6M361.5 266.32H422.6M364.3 230.3V407.3M382.8 230.3V407.3M401.3 230.3V407.3M419.8 230.3V407.3" stroke="#ebebeb" stroke-width="0.8"/>
<g clip-path="url(#cc2)">
<path d="M364.3 320.12 365.1 320.89 365.9 321.65 366.7 322.4 367.51 323.14 368.31 323.86 369.11 324.57 369.91 325.26 370.71 325.93 371.51 326.58 372.32 327.21 373.12 327.81 373.92 328.39 374.72 328.93 375.52 329.44 376.32 329.92 377.13 330.36 377.93 330.76 378.73 331.12 379.53 331.44 380.33 331.72 381.13 331.95 381.94 332.13 382.74 332.28 383.54 332.37 384.34 332.43 385.14 332.45 385.94 332.42 386.75 332.37 387.55 332.28 388.35 332.15 389.15 332 389.95 331.82 390.75 331.62 391.56 331.4 392.36 331.16 393.16 330.89 393.96 330.62 394.76 330.32 395.56 330.02 396.37 329.7 397.17 329.37 397.97 329.02 398.77 328.67 399.57 328.31 400.38 327.95 401.18 327.57 401.98 327.19 402.78 326.8 403.58 326.41 404.38 326.01 405.19 325.61 405.99 325.2 406.79 324.79 407.59 324.38 408.39 323.96 409.19 323.53 410 323.11 410.8 322.68 411.6 322.25 412.4 321.82 412.4 381.27 411.6 380.4 410.8 379.53 410 378.66 409.19 377.8 408.39 376.95 407.59 376.09 406.79 375.24 405.99 374.39 405.19 373.55 404.38 372.71 403.58 371.87 402.78 371.04 401.98 370.22 401.18 369.4 400.38 368.59 399.57 367.79 398.77 366.99 397.97 366.2 397.17 365.43 396.37 364.66 395.56 363.9 394.76 363.16 393.96 362.43 393.16 361.72 392.36 361.02 391.56 360.34 390.75 359.68 389.95 359.04 389.15 358.43 388.35 357.84 387.55 357.28 386.75 356.75 385.94 356.26 385.14 355.8 384.34 355.38 383.54 355 382.74 354.66 381.94 354.37 381.13 354.12 380.33 353.91 379.53 353.75 378.73 353.63 377.93 353.55 377.13 353.52 376.32 353.52 375.52 353.57 374.72 353.64 373.92 353.75 373.12 353.89 372.32 354.05 371.51 354.24 370.71 354.46 369.91 354.69 369.11 354.95 368.31 355.22 367.51 355.5 366.7 355.8 365.9 356.12 365.1 356.44 364.3 356.78Z" fill="#df646e" fill-opacity="0.4"/>
<path d="M364.3 338.45L412.4 351.54" stroke="#3a5eff" stroke-width="1.45"/>
<path d="M364.3 291.13 365.11 292.1 365.93 293.05 366.74 293.98 367.56 294.91 368.37 295.82 369.18 296.72 370 297.6 370.81 298.46 371.63 299.31 372.44 300.13 373.25 300.93 374.07 301.7 374.88 302.45 375.7 303.16 376.51 303.85 377.32 304.5 378.14 305.12 378.95 305.7 379.77 306.24 380.58 306.74 381.39 307.19 382.21 307.6 383.02 307.97 383.84 308.3 384.65 308.58 385.46 308.81 386.28 309.01 387.09 309.17 387.91 309.28 388.72 309.36 389.53 309.41 390.35 309.42 391.16 309.41 391.98 309.36 392.79 309.29 393.6 309.2 394.42 309.08 395.23 308.94 396.05 308.79 396.86 308.61 397.67 308.42 398.49 308.22 399.3 308.01 400.12 307.78 400.93 307.54 401.74 307.29 402.56 307.03 403.37 306.76 404.19 306.49 405 306.2 405.81 305.91 406.63 305.62 407.44 305.32 408.26 305.01 409.07 304.7 409.88 304.38 410.7 304.06 411.51 303.73 412.33 303.4 413.14 303.07 413.14 365.89 412.33 364.84 411.51 363.8 410.7 362.75 409.88 361.72 409.07 360.68 408.26 359.65 407.44 358.63 406.63 357.61 405.81 356.6 405 355.59 404.19 354.59 403.37 353.6 402.56 352.61 401.74 351.64 400.93 350.67 400.12 349.71 399.3 348.77 398.49 347.84 397.67 346.92 396.86 346.01 396.05 345.12 395.23 344.25 394.42 343.4 393.6 342.56 392.79 341.75 391.98 340.96 391.16 340.2 390.35 339.47 389.53 338.76 388.72 338.09 387.91 337.46 387.09 336.86 386.28 336.3 385.46 335.78 384.65 335.3 383.84 334.86 383.02 334.47 382.21 334.12 381.39 333.81 380.58 333.55 379.77 333.34 378.95 333.16 378.14 333.02 377.32 332.92 376.51 332.86 375.7 332.82 374.88 332.83 374.07 332.85 373.25 332.91 372.44 332.99 371.63 333.1 370.81 333.22 370 333.37 369.18 333.53 368.37 333.71 367.56 333.91 366.74 334.12 365.93 334.34 365.11 334.57 364.3 334.82Z" fill="#1edac1" fill-opacity="0.4"/>
<path d="M364.3 312.98L413.14 334.48" stroke="#3a5eff" stroke-width="1.45"/>
</g>
<rect x="361.5" y="230.3" width="61.1" height="177" fill="none" stroke="#979797" stroke-width="1"/>
<rect x="361.5" y="217.8" width="61.1" height="12.5" fill="#fff" stroke="#979797" stroke-width="1"/><text x="392.05" y="226.6" text-anchor="middle" font-size="6.3" fill="#1a1a1a" color="#1a1a1a">obesity</text>
<path d="M364.3 407.8v2.1" stroke="#333" stroke-width="0.75"/>
<text x="364.3" y="416" text-anchor="middle" font-size="6.3" fill="#4d4d4d" color="#4d4d4d">0</text>
<path d="M382.8 407.8v2.1" stroke="#333" stroke-width="0.75"/>
<text x="382.8" y="416" text-anchor="middle" font-size="6.3" fill="#4d4d4d" color="#4d4d4d">5</text>
<path d="M401.3 407.8v2.1" stroke="#333" stroke-width="0.75"/>
<text x="401.3" y="416" text-anchor="middle" font-size="6.3" fill="#4d4d4d" color="#4d4d4d">10</text>
<path d="M419.8 407.8v2.1" stroke="#333" stroke-width="0.75"/>
<text x="419.8" y="416" text-anchor="middle" font-size="6.3" fill="#4d4d4d" color="#4d4d4d">15</text>
<path d="M229 377.4H231.1" stroke="#333" stroke-width="0.75"/>
<text x="228.2" y="379.8" text-anchor="end" font-size="6.3" fill="#4d4d4d" color="#4d4d4d">2.5</text>
<path d="M229 340.38H231.1" stroke="#333" stroke-width="0.75"/>
<text x="228.2" y="342.77" text-anchor="end" font-size="6.3" fill="#4d4d4d" color="#4d4d4d">5.0</text>
<path d="M229 303.35H231.1" stroke="#333" stroke-width="0.75"/>
<text x="228.2" y="305.75" text-anchor="end" font-size="6.3" fill="#4d4d4d" color="#4d4d4d">7.5</text>
<path d="M229 266.32H231.1" stroke="#333" stroke-width="0.75"/>
<text x="228.2" y="268.72" text-anchor="end" font-size="6.3" fill="#4d4d4d" color="#4d4d4d">10.0</text>
<text x="327.2" y="425" text-anchor="middle" font-size="7.9">Irritative</text>
<text transform="translate(211 318.4) rotate(-90)" text-anchor="middle" font-size="7.9">Inverse Simpson</text>
<text x="204.6" y="225" font-size="10.5" font-weight="bold">c</text>
<clipPath id="cd0"><rect x="451.5" y="230.3" width="61.9" height="177"/></clipPath>
<rect x="451.5" y="230.3" width="61.9" height="177" fill="#fff"/>
<path d="M451.5 394.45H513.4M451.5 325.95H513.4M451.5 257.45H513.4M462.02 230.3V407.3M478.07 230.3V407.3M494.12 230.3V407.3M510.18 230.3V407.3" stroke="#f1f1f1" stroke-width="0.45"/>
<path d="M451.5 360.2H513.4M451.5 291.7H513.4M454 230.3V407.3M470.05 230.3V407.3M486.1 230.3V407.3M502.15 230.3V407.3" stroke="#ebebeb" stroke-width="0.8"/>
<g clip-path="url(#cd0)">
<path d="M454 346.53 454.95 346.06 455.89 345.56 456.84 345.01 457.79 344.41 458.73 343.74 459.68 343 460.63 342.18 461.58 341.27 462.52 340.25 463.47 339.14 464.42 337.91 465.36 336.58 466.31 335.15 467.26 333.63 468.2 332.02 469.15 330.33 470.1 328.58 471.05 326.77 471.99 324.91 472.94 323.01 473.89 321.08 474.83 319.11 475.78 317.12 476.73 315.1 477.67 313.07 478.62 311.01 479.57 308.95 480.51 306.87 481.46 304.78 482.41 302.68 483.36 300.57 484.3 298.46 485.25 296.33 486.2 294.21 487.14 292.07 488.09 289.93 489.04 287.79 489.98 285.64 490.93 283.49 491.88 281.34 492.82 279.18 493.77 277.02 494.72 274.86 495.67 272.7 496.61 270.53 497.56 268.36 498.51 266.19 499.45 264.02 500.4 261.85 501.35 259.67 502.29 257.5 503.24 255.32 504.19 253.14 505.14 250.96 506.08 248.78 507.03 246.6 507.98 244.42 508.92 242.24 509.87 240.05 510.82 237.87 510.82 340.77 509.87 340.96 508.92 341.15 507.98 341.35 507.03 341.54 506.08 341.74 505.14 341.93 504.19 342.13 503.24 342.33 502.29 342.53 501.35 342.73 500.4 342.93 499.45 343.13 498.51 343.34 497.56 343.54 496.61 343.75 495.67 343.96 494.72 344.18 493.77 344.39 492.82 344.61 491.88 344.83 490.93 345.05 489.98 345.28 489.04 345.5 488.09 345.74 487.14 345.98 486.2 346.22 485.25 346.47 484.3 346.72 483.36 346.98 482.41 347.25 481.46 347.53 480.51 347.81 479.57 348.11 478.62 348.42 477.67 348.75 476.73 349.09 475.78 349.45 474.83 349.83 473.89 350.24 472.94 350.68 471.99 351.16 471.05 351.68 470.1 352.24 469.15 352.87 468.2 353.56 467.26 354.32 466.31 355.18 465.36 356.12 464.42 357.17 463.47 358.32 462.52 359.58 461.58 360.94 460.63 362.41 459.68 363.96 458.73 365.6 457.79 367.31 456.84 369.08 455.89 370.91 454.95 372.78 454 374.7Z" fill="#df646e" fill-opacity="0.4"/>
<path d="M454 360.61L510.82 289.32" stroke="#3a5eff" stroke-width="1.45"/>
<path d="M454 329.72 454.68 330.78 455.36 331.84 456.04 332.89 456.72 333.94 457.4 334.98 458.08 336.01 458.76 337.04 459.44 338.05 460.12 339.06 460.79 340.05 461.47 341.03 462.15 341.99 462.83 342.93 463.51 343.85 464.19 344.75 464.87 345.62 465.55 346.45 466.23 347.25 466.91 348 467.59 348.71 468.27 349.37 468.95 349.97 469.63 350.51 470.31 350.99 470.99 351.41 471.67 351.77 472.35 352.07 473.02 352.32 473.7 352.52 474.38 352.68 475.06 352.8 475.74 352.88 476.42 352.94 477.1 352.97 477.78 352.98 478.46 352.96 479.14 352.94 479.82 352.89 480.5 352.84 481.18 352.77 481.86 352.69 482.54 352.61 483.22 352.51 483.9 352.41 484.58 352.31 485.25 352.2 485.93 352.08 486.61 351.96 487.29 351.84 487.97 351.71 488.65 351.58 489.33 351.44 490.01 351.31 490.69 351.17 491.37 351.03 492.05 350.89 492.73 350.74 493.41 350.59 494.09 350.45 494.77 350.3 494.77 399.42 494.09 398.33 493.41 397.24 492.73 396.14 492.05 395.05 491.37 393.97 490.69 392.88 490.01 391.8 489.33 390.71 488.65 389.63 487.97 388.56 487.29 387.49 486.61 386.42 485.93 385.35 485.25 384.29 484.58 383.23 483.9 382.18 483.22 381.14 482.54 380.1 481.86 379.07 481.18 378.04 480.5 377.03 479.82 376.03 479.14 375.04 478.46 374.07 477.78 373.11 477.1 372.17 476.42 371.26 475.74 370.37 475.06 369.51 474.38 368.68 473.7 367.89 473.02 367.15 472.35 366.45 471.67 365.81 470.99 365.22 470.31 364.7 469.63 364.23 468.95 363.83 468.27 363.48 467.59 363.19 466.91 362.96 466.23 362.77 465.55 362.62 464.87 362.51 464.19 362.43 463.51 362.38 462.83 362.36 462.15 362.36 461.47 362.37 460.79 362.4 460.12 362.45 459.44 362.51 458.76 362.58 458.08 362.66 457.4 362.75 456.72 362.84 456.04 362.94 455.36 363.05 454.68 363.16 454 363.28Z" fill="#1edac1" fill-opacity="0.4"/>
<path d="M454 346.5L494.77 374.86" stroke="#3a5eff" stroke-width="1.45"/>
</g>
<rect x="451.5" y="230.3" width="61.9" height="177" fill="none" stroke="#979797" stroke-width="1"/>
<rect x="451.5" y="217.8" width="61.9" height="12.5" fill="#fff" stroke="#979797" stroke-width="1"/><text x="482.45" y="226.6" text-anchor="middle" font-size="6.3" fill="#1a1a1a" color="#1a1a1a">healthy weight</text>
<path d="M454 407.8v2.1" stroke="#333" stroke-width="0.75"/>
<text x="454" y="416" text-anchor="middle" font-size="6.3" fill="#4d4d4d" color="#4d4d4d">0</text>
<path d="M470.05 407.8v2.1" stroke="#333" stroke-width="0.75"/>
<text x="470.05" y="416" text-anchor="middle" font-size="6.3" fill="#4d4d4d" color="#4d4d4d">5</text>
<path d="M486.1 407.8v2.1" stroke="#333" stroke-width="0.75"/>
<text x="486.1" y="416" text-anchor="middle" font-size="6.3" fill="#4d4d4d" color="#4d4d4d">10</text>
<path d="M502.15 407.8v2.1" stroke="#333" stroke-width="0.75"/>
<text x="502.15" y="416" text-anchor="middle" font-size="6.3" fill="#4d4d4d" color="#4d4d4d">15</text>
<clipPath id="cd1"><rect x="517.5" y="230.3" width="61.9" height="177"/></clipPath>
<rect x="517.5" y="230.3" width="61.9" height="177" fill="#fff"/>
<path d="M517.5 394.45H579.4M517.5 325.95H579.4M517.5 257.45H579.4M528.02 230.3V407.3M544.08 230.3V407.3M560.12 230.3V407.3M576.17 230.3V407.3" stroke="#f1f1f1" stroke-width="0.45"/>
<path d="M517.5 360.2H579.4M517.5 291.7H579.4M520 230.3V407.3M536.05 230.3V407.3M552.1 230.3V407.3M568.15 230.3V407.3" stroke="#ebebeb" stroke-width="0.8"/>
<g clip-path="url(#cd1)">
<path d="M520 331.35 520.52 332.18 521.05 333 521.57 333.81 522.1 334.59 522.62 335.36 523.15 336.11 523.67 336.83 524.19 337.52 524.72 338.18 525.24 338.81 525.77 339.41 526.29 339.97 526.82 340.48 527.34 340.95 527.86 341.38 528.39 341.77 528.91 342.11 529.44 342.41 529.96 342.66 530.49 342.88 531.01 343.06 531.53 343.2 532.06 343.31 532.58 343.4 533.11 343.45 533.63 343.49 534.16 343.5 534.68 343.49 535.2 343.47 535.73 343.43 536.25 343.38 536.78 343.32 537.3 343.24 537.83 343.16 538.35 343.07 538.87 342.97 539.4 342.86 539.92 342.74 540.45 342.62 540.97 342.5 541.5 342.37 542.02 342.24 542.54 342.1 543.07 341.96 543.59 341.81 544.12 341.66 544.64 341.51 545.17 341.36 545.69 341.2 546.22 341.04 546.74 340.88 547.26 340.72 547.79 340.56 548.31 340.39 548.84 340.23 549.36 340.06 549.89 339.89 550.41 339.72 550.93 339.55 551.46 339.37 551.46 394.58 550.93 393.62 550.41 392.66 549.89 391.71 549.36 390.75 548.84 389.79 548.31 388.84 547.79 387.88 547.26 386.93 546.74 385.98 546.22 385.04 545.69 384.09 545.17 383.15 544.64 382.21 544.12 381.27 543.59 380.33 543.07 379.4 542.54 378.47 542.02 377.54 541.5 376.62 540.97 375.71 540.45 374.79 539.92 373.89 539.4 372.98 538.87 372.09 538.35 371.2 537.83 370.32 537.3 369.45 536.78 368.59 536.25 367.73 535.73 366.89 535.2 366.07 534.68 365.26 534.16 364.46 533.63 363.69 533.11 362.94 532.58 362.2 532.06 361.5 531.53 360.82 531.01 360.18 530.49 359.57 529.96 359 529.44 358.47 528.91 357.98 528.39 357.53 527.86 357.13 527.34 356.77 526.82 356.46 526.29 356.18 525.77 355.95 525.24 355.76 524.72 355.6 524.19 355.48 523.67 355.39 523.15 355.32 522.62 355.28 522.1 355.26 521.57 355.26 521.05 355.27 520.52 355.3 520 355.35Z" fill="#df646e" fill-opacity="0.4"/>
<path d="M520 343.35L551.46 366.98" stroke="#3a5eff" stroke-width="1.45"/>
<path d="M520 337.17 520.89 337.57 521.79 337.97 522.68 338.35 523.57 338.72 524.47 339.08 525.36 339.42 526.25 339.74 527.15 340.04 528.04 340.32 528.93 340.57 529.83 340.79 530.72 340.97 531.61 341.12 532.51 341.23 533.4 341.3 534.3 341.33 535.19 341.32 536.08 341.26 536.98 341.16 537.87 341.03 538.76 340.85 539.66 340.64 540.55 340.41 541.44 340.14 542.34 339.85 543.23 339.53 544.12 339.2 545.02 338.85 545.91 338.48 546.8 338.1 547.7 337.71 548.59 337.3 549.48 336.89 550.38 336.47 551.27 336.04 552.16 335.61 553.06 335.17 553.95 334.72 554.84 334.27 555.74 333.81 556.63 333.35 557.52 332.89 558.42 332.43 559.31 331.96 560.21 331.49 561.1 331.01 561.99 330.54 562.89 330.06 563.78 329.58 564.67 329.1 565.57 328.62 566.46 328.13 567.35 327.64 568.25 327.16 569.14 326.67 570.03 326.18 570.93 325.69 571.82 325.2 572.71 324.71 573.61 324.21 573.61 370.71 572.71 370.21 571.82 369.72 570.93 369.23 570.03 368.74 569.14 368.25 568.25 367.76 567.35 367.27 566.46 366.79 565.57 366.3 564.67 365.82 563.78 365.34 562.89 364.86 561.99 364.38 561.1 363.9 560.21 363.43 559.31 362.96 558.42 362.49 557.52 362.03 556.63 361.56 555.74 361.1 554.84 360.65 553.95 360.2 553.06 359.75 552.16 359.31 551.27 358.88 550.38 358.45 549.48 358.03 548.59 357.61 547.7 357.21 546.8 356.82 545.91 356.44 545.02 356.07 544.12 355.72 543.23 355.39 542.34 355.07 541.44 354.78 540.55 354.51 539.66 354.27 538.76 354.07 537.87 353.89 536.98 353.75 536.08 353.66 535.19 353.6 534.3 353.59 533.4 353.61 532.51 353.69 531.61 353.8 530.72 353.95 529.83 354.13 528.93 354.35 528.04 354.6 527.15 354.88 526.25 355.17 525.36 355.5 524.47 355.84 523.57 356.19 522.68 356.56 521.79 356.95 520.89 357.35 520 357.75Z" fill="#1edac1" fill-opacity="0.4"/>
<path d="M520 347.46L573.61 347.46" stroke="#3a5eff" stroke-width="1.45"/>
</g>
<rect x="517.5" y="230.3" width="61.9" height="177" fill="none" stroke="#979797" stroke-width="1"/>
<rect x="517.5" y="217.8" width="61.9" height="12.5" fill="#fff" stroke="#979797" stroke-width="1"/><text x="548.45" y="226.6" text-anchor="middle" font-size="6.3" fill="#1a1a1a" color="#1a1a1a">overweight</text>
<path d="M520 407.8v2.1" stroke="#333" stroke-width="0.75"/>
<text x="520" y="416" text-anchor="middle" font-size="6.3" fill="#4d4d4d" color="#4d4d4d">0</text>
<path d="M536.05 407.8v2.1" stroke="#333" stroke-width="0.75"/>
<text x="536.05" y="416" text-anchor="middle" font-size="6.3" fill="#4d4d4d" color="#4d4d4d">5</text>
<path d="M552.1 407.8v2.1" stroke="#333" stroke-width="0.75"/>
<text x="552.1" y="416" text-anchor="middle" font-size="6.3" fill="#4d4d4d" color="#4d4d4d">10</text>
<path d="M568.15 407.8v2.1" stroke="#333" stroke-width="0.75"/>
<text x="568.15" y="416" text-anchor="middle" font-size="6.3" fill="#4d4d4d" color="#4d4d4d">15</text>
<clipPath id="cd2"><rect x="583.5" y="230.3" width="62.1" height="177"/></clipPath>
<rect x="583.5" y="230.3" width="62.1" height="177" fill="#fff"/>
<path d="M583.5 394.45H645.6M583.5 325.95H645.6M583.5 257.45H645.6M594.02 230.3V407.3M610.08 230.3V407.3M626.12 230.3V407.3M642.17 230.3V407.3" stroke="#f1f1f1" stroke-width="0.45"/>
<path d="M583.5 360.2H645.6M583.5 291.7H645.6M586 230.3V407.3M602.05 230.3V407.3M618.1 230.3V407.3M634.15 230.3V407.3" stroke="#ebebeb" stroke-width="0.8"/>
<g clip-path="url(#cd2)">
<path d="M586 350.52 586.94 350.88 587.88 351.22 588.82 351.54 589.77 351.82 590.71 352.07 591.65 352.29 592.59 352.47 593.53 352.61 594.47 352.71 595.42 352.77 596.36 352.79 597.3 352.76 598.24 352.69 599.18 352.59 600.12 352.44 601.07 352.25 602.01 352.03 602.95 351.77 603.89 351.48 604.83 351.16 605.77 350.82 606.72 350.45 607.66 350.06 608.6 349.64 609.54 349.21 610.48 348.77 611.42 348.3 612.36 347.83 613.31 347.34 614.25 346.83 615.19 346.32 616.13 345.8 617.07 345.27 618.01 344.74 618.96 344.19 619.9 343.64 620.84 343.08 621.78 342.52 622.72 341.96 623.66 341.38 624.61 340.81 625.55 340.23 626.49 339.64 627.43 339.06 628.37 338.47 629.31 337.87 630.26 337.28 631.2 336.68 632.14 336.08 633.08 335.48 634.02 334.87 634.96 334.27 635.9 333.66 636.85 333.05 637.79 332.44 638.73 331.82 639.67 331.21 640.61 330.59 641.55 329.98 642.5 329.36 642.5 395.98 641.55 395.36 640.61 394.74 639.67 394.12 638.73 393.51 637.79 392.9 636.85 392.28 635.9 391.67 634.96 391.07 634.02 390.46 633.08 389.85 632.14 389.25 631.2 388.65 630.26 388.05 629.31 387.46 628.37 386.87 627.43 386.27 626.49 385.69 625.55 385.1 624.61 384.52 623.66 383.95 622.72 383.38 621.78 382.81 620.84 382.25 619.9 381.69 618.96 381.14 618.01 380.6 617.07 380.06 616.13 379.53 615.19 379.01 614.25 378.5 613.31 378 612.36 377.51 611.42 377.03 610.48 376.57 609.54 376.12 608.6 375.69 607.66 375.27 606.72 374.88 605.77 374.51 604.83 374.17 603.89 373.85 602.95 373.56 602.01 373.3 601.07 373.08 600.12 372.89 599.18 372.75 598.24 372.64 597.3 372.57 596.36 372.55 595.42 372.56 594.47 372.62 593.53 372.72 592.59 372.86 591.65 373.04 590.71 373.26 589.77 373.51 588.82 373.8 587.88 374.11 586.94 374.45 586 374.81Z" fill="#df646e" fill-opacity="0.4"/>
<path d="M586 362.67L642.5 362.67" stroke="#3a5eff" stroke-width="1.45"/>
<path d="M586 328.33 586.8 328.76 587.59 329.16 588.39 329.54 589.19 329.89 589.99 330.2 590.78 330.49 591.58 330.73 592.38 330.93 593.17 331.09 593.97 331.2 594.77 331.26 595.57 331.27 596.36 331.22 597.16 331.11 597.96 330.95 598.75 330.73 599.55 330.45 600.35 330.11 601.15 329.73 601.94 329.3 602.74 328.82 603.54 328.3 604.33 327.74 605.13 327.14 605.93 326.52 606.73 325.86 607.52 325.18 608.32 324.48 609.12 323.75 609.91 323.01 610.71 322.25 611.51 321.47 612.31 320.68 613.1 319.88 613.9 319.06 614.7 318.24 615.49 317.41 616.29 316.56 617.09 315.71 617.89 314.86 618.68 313.99 619.48 313.12 620.28 312.25 621.07 311.37 621.87 310.49 622.67 309.6 623.47 308.71 624.26 307.81 625.06 306.91 625.86 306.01 626.65 305.1 627.45 304.2 628.25 303.29 629.05 302.37 629.84 301.46 630.64 300.54 631.44 299.62 632.23 298.7 633.03 297.78 633.83 296.86 633.83 375.6 633.03 374.96 632.23 374.32 631.44 373.68 630.64 373.04 629.84 372.41 629.05 371.78 628.25 371.15 627.45 370.52 626.65 369.9 625.86 369.28 625.06 368.66 624.26 368.04 623.47 367.43 622.67 366.82 621.87 366.21 621.07 365.61 620.28 365.02 619.48 364.43 618.68 363.84 617.89 363.26 617.09 362.68 616.29 362.12 615.49 361.56 614.7 361.01 613.9 360.47 613.1 359.94 612.31 359.42 611.51 358.91 610.71 358.42 609.91 357.94 609.12 357.48 608.32 357.03 607.52 356.61 606.73 356.21 605.93 355.84 605.13 355.5 604.33 355.19 603.54 354.91 602.74 354.68 601.94 354.48 601.15 354.33 600.35 354.23 599.55 354.18 598.75 354.18 597.96 354.24 597.16 354.36 596.36 354.54 595.57 354.77 594.77 355.06 593.97 355.4 593.17 355.8 592.38 356.24 591.58 356.73 590.78 357.25 589.99 357.82 589.19 358.42 588.39 359.05 587.59 359.71 586.8 360.4 586 361.1Z" fill="#1edac1" fill-opacity="0.4"/>
<path d="M586 344.72L633.83 336.23" stroke="#3a5eff" stroke-width="1.45"/>
</g>
<rect x="583.5" y="230.3" width="62.1" height="177" fill="none" stroke="#979797" stroke-width="1"/>
<rect x="583.5" y="217.8" width="62.1" height="12.5" fill="#fff" stroke="#979797" stroke-width="1"/><text x="614.55" y="226.6" text-anchor="middle" font-size="6.3" fill="#1a1a1a" color="#1a1a1a">obesity</text>
<path d="M586 407.8v2.1" stroke="#333" stroke-width="0.75"/>
<text x="586" y="416" text-anchor="middle" font-size="6.3" fill="#4d4d4d" color="#4d4d4d">0</text>
<path d="M602.05 407.8v2.1" stroke="#333" stroke-width="0.75"/>
<text x="602.05" y="416" text-anchor="middle" font-size="6.3" fill="#4d4d4d" color="#4d4d4d">5</text>
<path d="M618.1 407.8v2.1" stroke="#333" stroke-width="0.75"/>
<text x="618.1" y="416" text-anchor="middle" font-size="6.3" fill="#4d4d4d" color="#4d4d4d">10</text>
<path d="M634.15 407.8v2.1" stroke="#333" stroke-width="0.75"/>
<text x="634.15" y="416" text-anchor="middle" font-size="6.3" fill="#4d4d4d" color="#4d4d4d">15</text>
<path d="M448.9 360.2H451" stroke="#333" stroke-width="0.75"/>
<text x="447.8" y="362.5" text-anchor="end" font-size="6.3" fill="#4d4d4d" color="#4d4d4d">5</text>
<path d="M448.9 291.7H451" stroke="#333" stroke-width="0.75"/>
<text x="447.8" y="294" text-anchor="end" font-size="6.3" fill="#4d4d4d" color="#4d4d4d">10</text>
<text x="548.5" y="425" text-anchor="middle" font-size="7.9">Obstructive</text>
<text transform="translate(436.3 318.6) rotate(-90)" text-anchor="middle" font-size="7.9">Inverse Simpson</text>
<text x="429.6" y="224.7" font-size="10.5" font-weight="bold">d</text>
<text x="657.9" y="307.6" font-size="7.9">BPH</text>
<rect x="657.9" y="312.1" width="12.3" height="12.5" fill="#df646e" fill-opacity="0.4"/>
<path d="M659.1 318.4H669.1" stroke="#3a5eff" stroke-width="1.45"/>
<text x="674.6" y="320.7" font-size="6.3">No</text>
<rect x="657.9" y="324.6" width="12.3" height="12.5" fill="#1edac1" fill-opacity="0.4"/>
<path d="M659.1 330.9H669.1" stroke="#3a5eff" stroke-width="1.45"/>
<text x="674.6" y="333.2" font-size="6.3">Yes</text>
</svg>
</body></html>
